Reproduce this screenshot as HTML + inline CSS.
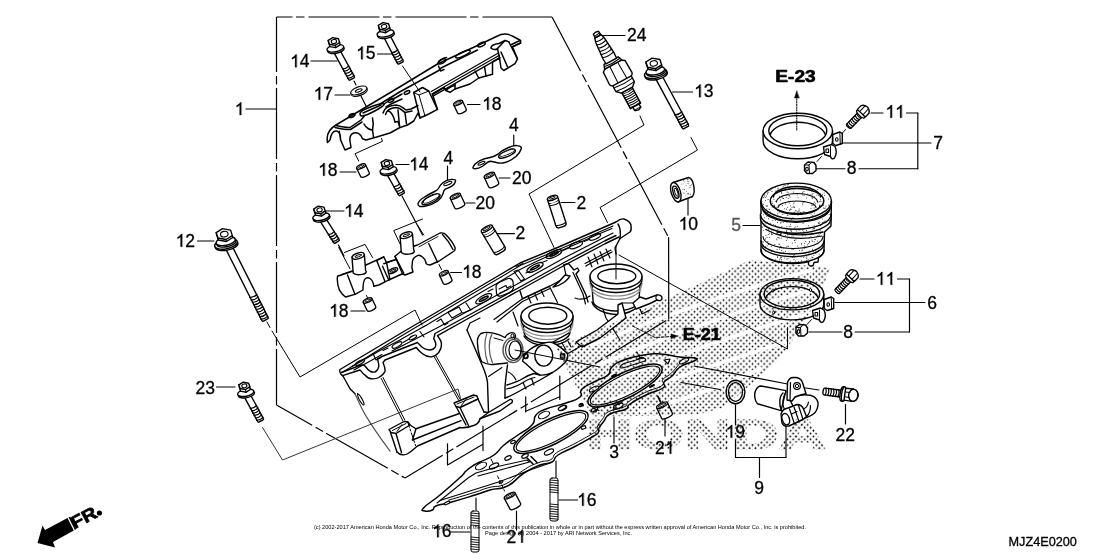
<!DOCTYPE html>
<html><head><meta charset="utf-8"><title>E-10 Cylinder Head</title>
<style>
html,body{margin:0;padding:0;background:#fff;}
body{width:1120px;height:560px;overflow:hidden;font-family:"Liberation Sans",sans-serif;}
svg{display:block;font-family:"Liberation Sans",sans-serif;}
svg{filter:grayscale(1) blur(0.3px);}
</style></head><body>
<svg width="1120" height="560" viewBox="0 0 1120 560" fill="none" stroke="#000" stroke-linecap="round" stroke-linejoin="round">
<defs>
<pattern id="dots" width="5.8" height="5.8" patternUnits="userSpaceOnUse">
<circle cx="1.45" cy="1.45" r="0.9" fill="#000" stroke="none"/>
<circle cx="4.35" cy="4.35" r="0.9" fill="#000" stroke="none"/>
</pattern>
</defs>
<rect x="0" y="0" width="1120" height="560" fill="#fff" stroke="none"/>

<path d="M276.5,17 L552,17" stroke-width="1.2" stroke-dasharray="71 3.5 8.5 4" stroke-dashoffset="55" stroke-linecap="butt"/>
<path d="M276.5,17 L276.5,405" stroke-width="1.2" stroke-dasharray="71 4 8.5 3.5" stroke-dashoffset="16" stroke-linecap="butt"/>
<path d="M552,17 L668.6,237.5" stroke-width="1.2" stroke-dasharray="71 4 8.5 3.5" stroke-dashoffset="10" stroke-linecap="butt"/>
<path d="M668.6,237.5 L668.75,319" stroke-width="1.2" />
<path d="M405,478 L668.75,319" stroke-width="1.2" stroke-dasharray="71 4 8.5 3.5" stroke-dashoffset="27" stroke-linecap="butt"/>
<path d="M276.5,405 L405,478" stroke-width="1.2" stroke-dasharray="71 4 8.5 3.5" stroke-dashoffset="30" stroke-linecap="butt"/>
<line x1="246" y1="109" x2="276" y2="109" stroke-width="1.15" />
<line x1="311" y1="61" x2="337" y2="61" stroke-width="1.15" />
<line x1="377.5" y1="54" x2="394" y2="54" stroke-width="1.15" />
<line x1="335" y1="95" x2="350" y2="95" stroke-width="1.15" />
<line x1="467.5" y1="104.5" x2="480" y2="104.5" stroke-width="1.15" />
<line x1="513.75" y1="135" x2="513.75" y2="146" stroke-width="1.15" />
<line x1="340" y1="172" x2="356" y2="172" stroke-width="1.15" />
<line x1="396" y1="164.5" x2="409" y2="164.5" stroke-width="1.15" />
<line x1="447.5" y1="166" x2="447.5" y2="180" stroke-width="1.15" />
<line x1="499" y1="178" x2="510" y2="178" stroke-width="1.15" />
<line x1="466" y1="203" x2="475" y2="203" stroke-width="1.15" />
<line x1="326" y1="211" x2="344" y2="211" stroke-width="1.15" />
<line x1="497.5" y1="233.6" x2="514.5" y2="233.6" stroke-width="1.15" />
<line x1="561" y1="202.5" x2="575" y2="202.5" stroke-width="1.15" />
<line x1="197.5" y1="241" x2="214" y2="241" stroke-width="1.15" />
<line x1="351" y1="311" x2="365" y2="311" stroke-width="1.15" />
<line x1="450.6" y1="272.5" x2="461.5" y2="272.5" stroke-width="1.15" />
<line x1="600" y1="35.5" x2="625" y2="35.5" stroke-width="1.15" />
<line x1="672.5" y1="92" x2="692.5" y2="92" stroke-width="1.15" />
<line x1="688" y1="199" x2="688" y2="215" stroke-width="1.15" />
<line x1="871" y1="113" x2="883" y2="113" stroke-width="1.15" />
<line x1="906.5" y1="113" x2="917.8" y2="113" stroke-width="1.15" />
<line x1="917.8" y1="113" x2="917.8" y2="168.75" stroke-width="1.15" />
<line x1="841" y1="143" x2="931" y2="143" stroke-width="1.15" />
<line x1="816" y1="168.75" x2="845" y2="168.75" stroke-width="1.15" />
<line x1="859" y1="168.75" x2="917.8" y2="168.75" stroke-width="1.15" />
<line x1="743" y1="225.5" x2="760" y2="225.5" stroke-width="1.15" />
<line x1="860" y1="279" x2="874" y2="279" stroke-width="1.15" />
<line x1="897.5" y1="279" x2="909.5" y2="279" stroke-width="1.15" />
<line x1="909.5" y1="279" x2="909.5" y2="332" stroke-width="1.15" />
<line x1="835" y1="302.5" x2="925" y2="302.5" stroke-width="1.15" />
<line x1="809" y1="332" x2="842" y2="332" stroke-width="1.15" />
<line x1="855" y1="332" x2="909.5" y2="332" stroke-width="1.15" />
<line x1="735.5" y1="404.5" x2="735.5" y2="425" stroke-width="1.15" />
<line x1="735.5" y1="440" x2="735.5" y2="457.5" stroke-width="1.15" />
<line x1="735.5" y1="457.5" x2="786" y2="457.5" stroke-width="1.15" />
<line x1="786" y1="426" x2="786" y2="457.5" stroke-width="1.15" />
<line x1="759.5" y1="457.5" x2="759.5" y2="477.5" stroke-width="1.15" />
<line x1="845.5" y1="404.5" x2="845.5" y2="424" stroke-width="1.15" />
<line x1="665" y1="419" x2="665" y2="436" stroke-width="1.15" />
<line x1="614" y1="417" x2="614" y2="443" stroke-width="1.15" />
<line x1="516.5" y1="511" x2="516.5" y2="530" stroke-width="1.15" />
<line x1="451" y1="532" x2="470" y2="532" stroke-width="1.15" />
<line x1="559" y1="500" x2="577.5" y2="500" stroke-width="1.15" />
<line x1="216.5" y1="387" x2="235" y2="387" stroke-width="1.15" />
<line x1="476" y1="498" x2="476" y2="510" stroke-width="1.15" />
<line x1="556" y1="461" x2="556" y2="477.5" stroke-width="1.15" />
<path d="M632.5,326 L655,337.5 L673,336.5" stroke-width="1" stroke-dasharray="3 1.5"/>
<path d="M678,336 L671,334 L671,338.5 Z" fill="#000" stroke-width="0.5"/>
<path d="M358.75,161 L355,153.75 L382.5,141.25 L381.5,138.5" stroke-width="1" />
<line x1="354" y1="81" x2="356" y2="85" stroke-width="1.15" />
<line x1="361" y1="96" x2="367" y2="108" stroke-width="1.15" />
<line x1="402" y1="196" x2="422.5" y2="235" stroke-width="1.15" />
<line x1="338.5" y1="245" x2="344" y2="256" stroke-width="1.15" />
<path d="M640,116 L644,125 L529,194 L554,247.5" stroke-width="1" />
<path d="M691,137.5 L697.5,150 L600,207.5 L607.5,222.5" stroke-width="1" />
<path d="M267,322 L270,327.5" stroke-width="1" />
<line x1="694" y1="366" x2="787.5" y2="384" stroke-width="1.15" />
<line x1="802.5" y1="387.5" x2="819" y2="390" stroke-width="1.15" />
<line x1="681" y1="382.5" x2="720" y2="389.5" stroke-width="1.15" />
<line x1="657.5" y1="396" x2="660.5" y2="402.5" stroke-width="1.15" />
<path d="M447.5,443.75 L447.5,465" stroke-width="1.2" />
<path d="M483,426 L483,450.6" stroke-width="1.2" />
<path d="M448.5,464.4 L482.5,444.4" stroke-width="1.2" />
<path d="M525.7,396.8 L525.7,412" stroke-width="1.2" />
<path d="M559.8,376 L559.8,399.4" stroke-width="1.2" />
<path d="M525.7,411.3 L559.8,396.8" stroke-width="1.2" />
<g stroke-width="1.4" fill="#fff">
<path stroke="none" d="M340,369.5 L400,333.75 L470,292.5 L520,263 L557.5,247.5 L616,222 L624,219 L631,226 L630,232 L622,238 L660,296 L662,302 L640,318 L600,345 L568,362 L552,373 L512,402 L482,421 L470,428 L418,447 L405,456 L396,453 L390,451 L366,416 L350,390 L342,376 Z"/>
</g>
<g stroke-width="1.4" fill="none">
<path d="M342.5,375.6 C340,374 339.5,371 340,369.5 L400,333.75 L470,292.5 L520,263 L557.5,247.5 L616,222"/>
<path d="M343,372 L400.8,336.2 L470.8,294.8 L520.8,265.3 L558.3,249.8 L613,226" stroke-width="1.1"/>
<path d="M616,222 C619,219.5 622,218.5 624,219 C628,220.5 631,223.5 631,226 C631.5,229 631,231 630,232 L620,238.5" fill="#fff"/>
<path d="M618,224 C620,227 621,231 620,238.5"/>
<path d="M342.5,375.6 L360,370 C362,372 363,374 365,375 C367,377.5 369,378.75 371.25,378.75 C374,379 377,378.5 378.75,377.5 C382,375.5 384.5,373 385,371.25 C385.5,368 384,365 383,362.5 L385,360 L416.25,347.5 C418,350 420,352 422.5,353.75 C425,355.8 428,357 431.25,356.9 C434,356.5 437,354.5 438.75,352.5 C441,349.5 441.8,345.5 441.25,342.5 C440.8,340.5 439.8,338.8 438.75,337.5 L437.5,335.6 L470,317.5 L520,290 L565,265 L605,243.75 L619,237"/>
<path d="M341.25,372.5 L361.25,365 C362.5,365 364,365.3 365,366 C366.5,368 368,370 370,371.25 C371.5,372 373.5,372.3 375,372 C377,371 378.5,368.8 378.75,366.25 C379,363.5 378,361 377.5,358.75 L382.5,356.25 L417.5,342.5 C419,344 420.5,346 422.5,347.5 C424.5,349 427,350 430,350 C432,349.8 434,348.8 435,347.5 C436.5,345 435.5,341.5 433.75,338.75 L435,333.5 L470,314.5 L520,287 L565,262 L605,240.75 L616,235.5"/>
<path d="M352,366.5 L380,350.5 L400,340 C410,334 420,329 430,323 L470,299 C480,293 488,288 496,284 L520,269.5 C535,262 548,256 557,252.5 L600,233.5 L612,228.5" stroke-width="1.15"/>
<path d="M354,370 L382,354.5 M392,351 L436,328.5 L470,310 L520,282.5 L565,257.5 L605,237 L613,233" stroke-width="1.15"/>
<ellipse cx="360" cy="362.5" rx="5" ry="1.7" transform="rotate(-29 360 362.5)" stroke-width="1.2"/>
<ellipse cx="397" cy="345" rx="5.5" ry="1.9" transform="rotate(-29 397 345)" stroke-width="1.2"/>
<ellipse cx="413" cy="337.5" rx="4" ry="1.6" transform="rotate(-29 413 337.5)" stroke-width="1.2"/>
<ellipse cx="483.75" cy="298.75" rx="9" ry="3.2" transform="rotate(-29 483.75 298.75)" stroke-width="1.2"/>
<ellipse cx="483.75" cy="298.75" rx="5.0" ry="1.1" transform="rotate(-29 483.75 298.75)" stroke-width="1.6"/>
<ellipse cx="535" cy="267.5" rx="9" ry="3" transform="rotate(-27 535 267.5)" stroke-width="1.2"/>
<ellipse cx="535" cy="267.5" rx="5.0" ry="1.0" transform="rotate(-27 535 267.5)" stroke-width="1.6"/>
<ellipse cx="554" cy="254" rx="8.5" ry="3" transform="rotate(-24 554 254)" stroke-width="1.2"/>
<ellipse cx="554" cy="254" rx="4.7" ry="1.0" transform="rotate(-24 554 254)" stroke-width="1.6"/>
<ellipse cx="576" cy="245" rx="7" ry="2.6" transform="rotate(-24 576 245)" stroke-width="1.2"/>
<ellipse cx="595" cy="237" rx="6" ry="2.2" transform="rotate(-24 595 237)" stroke-width="1.2"/>
<path d="M496,286.5 C496,284.5 498,283 500,282 L508,278.5 C510.5,278 512.5,279.5 513,281.5 L513.5,288 C513,290 511.5,291.5 509.5,292.5 L501,296 C498.5,296.5 497,295.5 496.5,293.5 Z" stroke-width="1.2"/>
<path d="M499,289 L506,285.5 L507,288 L511,286 M500,293 L508,289.5" stroke-width="1.1"/>
<path d="M514,271.5 L518,270 L524.5,279 L521,281 Z M516,266.5 L523,263.5" stroke-width="1.2"/>
<path d="M493,289 L488,291.5 M526,273 L530,271 M543,262 L547,260.5 M563,250.5 L569,248 M584,241.5 L589,239.5" stroke-width="1.1"/>
<path d="M437,321.5 L441,319 L444.5,325 L448,323 M448,312.5 L452,318 L462,312.5 L459,307 Z M463,313 L472,309.5 M466,303 L470,309" stroke-width="1.15"/>
<path d="M373,353.5 L376,360 L381,357.5 M383,350.5 L388,348 M403,342.5 L409,339 M420,331.5 L424,337" stroke-width="1.15"/>
<path d="M343,376 L350,388.75 L355,393.75"/>
<path d="M357.5,393.5 C359.5,394 363,400 364,403.5 C364.3,405 363.3,405.5 362.5,404.5 C360,401.5 357.5,397 357.5,393.5 Z" stroke-width="1.1"/>
<path d="M355,393.75 C358,400 361,408 366,416 C372,426 381,439 390,451" stroke="#444" stroke-width="1.2"/>
<path d="M381.25,378.5 L403,421 M383,377.5 L404.8,420" stroke-width="1"/>
<path d="M434.4,357 L458.5,400 M436,356 L460,399" stroke-width="1"/>
<path d="M389,429.5 L404,421.5 L408,422 L410,425 L396,433.5 L391,432.5 Z" fill="#fff"/>
<path d="M392.5,430.5 L406,423.5 M397,431.5 L402,424.5" stroke-width="1"/>
<path d="M390.5,432.5 L397,452 M396,433.5 L401.5,452.5 M410,425 L416,428.75 L412.5,440"/>
<path d="M416,428.75 L458.75,413.75"/>
<path d="M412.5,440 L461,420.6"/>
<path d="M397,452 C400,455.5 405,455.5 408,453.5 C412,451 415,448 417.5,446 L460,427.5 C463,428 469,427.5 475,425 C478,423.5 479.5,421.5 480,418.75 L500,411 L512,402.5"/>
<path d="M407.5,421.5 L415.6,445.6" stroke-width="1" stroke-dasharray="6 2 2 2"/>
<path d="M454,403 L473.5,395 L477,396 L478,399 L460,407.5 L456,406.5 Z" fill="#fff"/>
<path d="M457,404 L474,397 M461,406 L467.5,397.5" stroke-width="1"/>
<path d="M456,406.5 L466,425 M460,407.5 L469,426.5 M478,399 L484,412"/>
<path d="M484,412 L488.5,412.5 L480,418.75 M488.5,412.5 L510,399.5 C512,399 513,400.5 512,402.5"/>
<path d="M467,330 L482.5,366 C485.5,373 487,378 487.5,382.5 L488.5,412"/>
<path d="M507.5,365 C506.5,372 505.5,380 505,387.5 L505,398"/>
<path d="M488.5,376.5 L502,367.5" stroke-width="1.1"/>
<path d="M507,385 C512,383.5 518,381.5 522,379 C526,376.5 530,374.5 534,373.5 L540,375"/>
<path d="M506.5,389 C512,388 518.5,385.5 523,382.5 C527,380 531,378 535,377.5 M523,382.5 L526,389 M531.5,378.5 L534,385" stroke-width="1.2"/>
<path d="M508,372 C511,373 514,376 516,380" stroke-width="1.1"/>
<path d="M505,398 C511,396 518,392 524,388.5 L540,380 L552,373"/>
</g>
<g stroke-width="1.4" fill="none">
<path d="M620,238.5 L615,248 L616,254"/>
<path d="M588,257 L592,267 M594,254 L598,264 M600,251.5 L604,261 M606,249 L610,258" stroke-width="1.2"/>
<path d="M586,266 L587.5,265 L612,252"/>
<path d="M585,263.5 L611,250" stroke-width="1.1"/>
<path d="M520,291 L522.5,298.75 L550,286 L563,279"/>
<path d="M497,322 L505,315.5 L522.5,301.5 L550,288.5" stroke-width="1.2"/>
<path d="M494,319.5 L503,313 L522.5,298.75" stroke-width="1.2"/>
<path d="M528,296 L531,303 M534.5,293 L537.5,300 M550,287.5 L557.5,302.5 M541,290 L544,296.5" stroke-width="1.2"/>
<path d="M563.75,265 L568.5,263.5 L574,270 L577.5,268 L579,270.5 L576,274 L586,295 L588,302" fill="none"/>
<path d="M573,272.5 L583,294 L585.5,304" stroke-width="1.2"/>
<path d="M553,287 C557,286.5 561,284.5 563.75,282.5 C567,280 569,278 570,276 L565,275 C562,279 558,283 553,287 Z" fill="#fff"/>
<path d="M563.75,265 L566,275" stroke-width="1.2"/>
<path d="M467,330 L470,323 L480,318 M513,312 L518,326 M575,298 C580,300 586,299 590,296" stroke-width="1.2"/>
<path d="M600,300 L606,318 L620,340" stroke-width="1.2"/>
</g>
<g stroke-width="1.4" fill="#fff">
<path d="M592,284.5 L593,300.5 A23,10.5 0 0 0 639,300.5 L640,284.5 Z"/>
<path d="M590,283.5 A26,12.5 0 0 0 642,283.5" fill="none" stroke="#888" stroke-width="1.2"/>
<path d="M591,287.0 A25,12.5 0 0 0 641,287.0" fill="none" stroke="#888" stroke-width="1.2"/>
<path d="M590,276.5 L590,280.0 A26,12.5 0 0 0 642,280.0 L642,276.5 Z"/>
<ellipse cx="616" cy="276.5" rx="26" ry="12.5"/>
<ellipse cx="616.8" cy="276.2" rx="19" ry="7.5"/>
</g>
<line x1="616" y1="246" x2="616" y2="279" stroke-width="1" />
<g stroke-width="1.4" fill="#fff">
<path d="M523,324 L524,332 A23,11 0 0 0 570,332 L571,324 Z"/>
<path d="M521,323 A26,13 0 0 0 573,323" fill="none" stroke="#888" stroke-width="1.2"/>
<path d="M522,326.5 A25,13 0 0 0 572,326.5" fill="none" stroke="#888" stroke-width="1.2"/>
<path d="M521,316 L521,319.5 A26,13 0 0 0 573,319.5 L573,316 Z"/>
<ellipse cx="547" cy="316" rx="26" ry="13"/>
<ellipse cx="547.8" cy="315.7" rx="19" ry="8.5"/>
</g>
<g stroke-width="1.4" fill="none">
<path d="M592,302 C594,309 604,314 616,314.5 C626,314 634,311 638,306"/>
<path d="M524,336 C527,342 537,345.5 547,346 C556,345.5 564,343.5 569,339" />
<path d="M618,305 L622,303 L626,318 L600,338 L582,347 L576,342 L597,330 L618,314 Z" fill="#fff"/>
<path d="M633,303 L636,309 L650,303.5 L657,300 C660,301.5 662,300 662,298 C662,296 660,294.5 657,295 L646,299 L640,297 L633,303 Z" fill="#fff"/>
<path d="M657,295 C655.5,296.5 655.5,299 657,300" stroke-width="1.1"/>
<path d="M640,309 L642,314 L650,310 M622,303 L633,303" stroke-width="1.2"/>
<path d="M556,345 L560,352 M562,343 L566,350 M568,341 L571,347" stroke-width="1.1"/>
</g>
<g stroke-width="1.4" fill="none">
<path d="M505,337.5 C497,333 487,331 481,333.5 C478,336 477,339.5 477.5,343.5 C478,351 479.5,357 481.5,361.5 C486,364.5 491,365 495,364.3 L507.5,363" fill="#fff"/>
<path d="M492,334 C488.5,341 488,352 492.5,363" stroke="#555" stroke-width="1.2"/>
<path d="M487,333 C484,341 484,353 488,363.5" stroke="#555" stroke-width="1.1"/>
<ellipse cx="513" cy="350" rx="10" ry="12.5" fill="#fff" stroke="#555"/>
<ellipse cx="513.5" cy="350" rx="8" ry="10.5" stroke="#333" stroke-width="1.2"/>
<ellipse cx="515" cy="350" rx="6" ry="9" stroke="#000" stroke-width="1.2"/>
<path d="M505,337.5 C507,333.5 511,332 514,333 C516,334.5 516,337 514.5,338.5" stroke-width="1.2"/>
<ellipse cx="512.5" cy="336" rx="1.6" ry="2" stroke-width="1"/>
<path d="M494,338 L503,340.5" stroke-width="1"/>
<path d="M522.5,361 C524,356 525.5,353.5 527,352 C531,348 538,344.5 544,343 C548,342 551,342 552.5,342.5 C558,345 563.5,349.5 567.5,353.75 C568.3,357.5 567,360.5 565,362.5 C561,366.5 557,370 552.5,372.5 C548.5,374.5 544,375.5 540,375 C536,373.5 533,370.5 530,367.5 C527.5,365 525,363 522.5,361 Z" fill="#fff"/>
<ellipse cx="543.75" cy="355.6" rx="9" ry="10.5" fill="#fff"/>
<circle cx="525.6" cy="356" r="2.3" stroke-width="1.8"/>
<rect x="560.5" y="354" width="4.2" height="4.2" stroke-width="1.3"/>
<path d="M561.8,354 L561.8,358.2 M563.2,354 L563.2,358.2" stroke-width="0.7"/>
<path d="M515,350 L600,367" stroke-width="1"/>
<path d="M552,342.5 L569,333 M567.5,353.75 L583,345" stroke-width="1.2"/>
</g>
<g stroke-width="1.5" fill="#fff">
<path d="M424.0,507.5 C428.0,503.2 430.4,503.0 440.0,495.0 C449.6,487.0 453.1,483.9 460.0,477.5 C466.9,471.1 462.3,474.3 466.0,471.0 C469.7,467.7 470.3,467.4 474.0,465.0 C477.7,462.6 474.7,464.7 480.0,462.0 C485.3,459.3 487.6,459.5 494.0,455.0 C500.4,450.5 497.6,450.3 504.0,445.0 C510.4,439.7 510.5,440.3 518.0,435.0 C525.5,429.7 527.2,430.3 532.0,425.0 C536.8,419.7 532.3,419.3 536.0,415.0 C539.7,410.7 538.0,412.2 546.0,409.0 C554.0,405.8 556.9,406.2 566.0,403.0 C575.1,399.8 575.7,400.7 580.0,397.0 C584.3,393.3 577.7,393.3 582.0,389.0 C586.3,384.7 589.1,384.7 596.0,381.0 C602.9,377.3 603.7,378.7 608.0,375.0 C612.3,371.3 607.7,371.0 612.0,367.0 C616.3,363.0 615.5,363.2 624.0,360.0 C632.5,356.8 634.4,356.6 644.0,355.0 C653.6,353.4 650.4,353.5 660.0,354.0 C669.6,354.5 670.7,355.9 680.0,357.0 C689.3,358.1 691.3,356.9 695.0,358.0 C698.7,359.1 698.0,358.6 694.0,361.0 C690.0,363.4 685.9,363.0 680.0,367.0 C674.1,371.0 676.3,372.0 672.0,376.0 C667.7,380.0 666.4,378.8 664.0,382.0 C661.6,385.2 667.8,384.5 663.0,388.0 C658.2,391.5 654.8,390.7 646.0,395.0 C637.2,399.3 635.3,400.3 630.0,404.0 C624.7,407.7 631.3,406.3 626.0,409.0 C620.7,411.7 615.9,410.8 610.0,414.0 C604.1,417.2 606.9,417.3 604.0,421.0 C601.1,424.7 600.6,424.8 599.0,428.0 C597.4,431.2 599.9,430.6 598.0,433.0 C596.1,435.4 598.4,433.3 592.0,437.0 C585.6,440.7 583.1,442.2 574.0,447.0 C564.9,451.8 563.9,451.0 558.0,455.0 C552.1,459.0 556.8,459.3 552.0,462.0 C547.2,464.7 547.5,462.1 540.0,465.0 C532.5,467.9 532.7,467.4 524.0,473.0 C515.3,478.6 516.6,481.5 507.5,486.0 C498.4,490.5 498.7,487.6 490.0,490.0 C481.3,492.4 485.7,491.7 475.0,495.0 C464.3,498.3 460.4,499.6 450.0,502.5 C439.6,505.4 440.7,504.0 436.0,506.0 C431.3,508.0 435.4,508.7 432.5,510.0 C429.6,511.3 427.3,511.7 425.0,511.0 C422.7,510.3 420.0,511.8 424.0,507.5 Z"/>
<path d="M678.8,364.6 C676.7,367.0 675.1,369.6 670.8,373.6 C666.5,377.6 665.2,376.4 662.8,379.6 C660.4,382.8 666.6,382.1 661.8,385.6 C657.0,389.1 653.6,388.3 644.8,392.6 C636.0,396.9 634.1,397.9 628.8,401.6 C623.5,405.3 630.1,403.9 624.8,406.6 C619.5,409.3 614.7,408.4 608.8,411.6 C602.9,414.8 605.7,414.9 602.8,418.6 C599.9,422.3 599.4,422.4 597.8,425.6 C596.2,428.8 598.7,428.2 596.8,430.6 C594.9,433.0 597.2,430.9 590.8,434.6 C584.4,438.3 581.9,439.8 572.8,444.6 C563.7,449.4 562.7,448.6 556.8,452.6 C550.9,456.6 555.6,456.9 550.8,459.6 C546.0,462.3 546.3,459.7 538.8,462.6 C531.3,465.5 531.5,465.0 522.8,470.6 C514.1,476.2 515.4,479.1 506.3,483.6 C497.2,488.1 497.5,485.2 488.8,487.6 C480.1,490.0 484.5,489.3 473.8,492.6 C463.1,495.9 455.5,498.1 448.8,500.1" fill="none" stroke-width="1"/>
<ellipse cx="551" cy="432" rx="41" ry="12.5" transform="rotate(-26.3 551 432)"/>
<ellipse cx="551" cy="432" rx="38.5" ry="10.3" transform="rotate(-26.3 551 432)" stroke-width="1.1"/>
<ellipse cx="625" cy="385.5" rx="41" ry="12.5" transform="rotate(-26.3 625 385.5)"/>
<ellipse cx="625" cy="385.5" rx="38.5" ry="10.3" transform="rotate(-26.3 625 385.5)" stroke-width="1.1"/>
<ellipse cx="544" cy="415" rx="6" ry="3" transform="rotate(-26 544 415)" stroke-width="1.2"/>
<ellipse cx="563" cy="408" rx="4" ry="2" transform="rotate(-26 563 408)" stroke-width="1.2"/>
<ellipse cx="581" cy="405" rx="2.2" ry="1.3" transform="rotate(-26 581 405)" stroke-width="1.2"/>
<ellipse cx="618" cy="406" rx="5" ry="2.2" transform="rotate(-26 618 406)" stroke-width="1.2"/>
<ellipse cx="513" cy="442" rx="2.5" ry="1.3" transform="rotate(-26 513 442)" stroke-width="1.2"/>
<ellipse cx="508" cy="458" rx="3.5" ry="1.8" transform="rotate(-26 508 458)" stroke-width="1.2"/>
<ellipse cx="525" cy="456" rx="3.5" ry="1.8" transform="rotate(-26 525 456)" stroke-width="1.2"/>
<ellipse cx="549" cy="452" rx="5" ry="2.2" transform="rotate(-26 549 452)" stroke-width="1.2"/>
<ellipse cx="481" cy="466" rx="6" ry="3" transform="rotate(-26 481 466)" stroke-width="1.2"/>
<ellipse cx="494" cy="466" rx="5" ry="2.2" transform="rotate(-26 494 466)" stroke-width="1.2"/>
<ellipse cx="501" cy="482" rx="2" ry="1.2" transform="rotate(-26 501 482)" stroke-width="1.2"/>
<ellipse cx="640" cy="360" rx="4" ry="1.8" transform="rotate(-26 640 360)" stroke-width="1.2"/>
<ellipse cx="684" cy="361" rx="5" ry="2" transform="rotate(-26 684 361)" stroke-width="1.2"/>
<ellipse cx="594" cy="389" rx="5" ry="2" transform="rotate(-26 594 389)" stroke-width="1.2"/>
<ellipse cx="619" cy="406" rx="4.5" ry="2" transform="rotate(-26 619 406)" stroke-width="1.2"/>
<ellipse cx="562" cy="408" rx="4" ry="1.8" transform="rotate(-26 562 408)" stroke-width="1.2"/>
<ellipse cx="447" cy="503" rx="3" ry="1.2" transform="rotate(-26 447 503)" stroke-width="1.2"/>
<path d="M620,367.5 C620,365.5 622,364.5 624,363.5 L643,358 C645,358 646.5,359.5 645,361 L626,367 C623,368 620.5,368.5 620,367.5 Z" stroke-width="1.2"/>
<path d="M664,360 L670,359 L668,364 Z M592,409 L598,407 L596,412 L591,412 Z M593,411.5 L598,409.5 M581,427 L585,425.5 L586,428 L582,429.5 Z M594.5,409 L599,410.5" stroke-width="1.2"/>
<path d="M612,376.5 L616,374.5 M650,387 L654,385 M580,404.5 L583,405.5" stroke-width="2"/>
<path d="M437,503 L452,491 L468,478 L476,473 L500,466 L527,460 L529.5,462 L502,469.5 L478,476" stroke-width="1.1" fill="none"/>
<path d="M440,500.5 L470,491 L500,481.5 L530,470 L550,463" stroke-width="1.1" fill="none"/>
<path d="M527,458 L533,464 M531,456.5 L537,462.5" stroke-width="1.6"/>
</g>
<path d="M491,459 L493.5,464" stroke-width="1" />
<path d="M637,352 L640,358.5" stroke-width="1" />
<path d="M658,396 L661,402" stroke-width="1" />
<path d="M497.5,476 L501,483 L504.5,491" stroke-width="1" stroke-dasharray="3 2"/>
<g stroke-width="1.4" fill="#fff">
<path d="M473,167.5 C474,164 477,162.5 480,160.6 C484,158.5 487,158 490,157.5 C493,157 495.5,156 497.5,154.4 C501,151 504,149.5 507.5,148 C511,146.3 515,145.2 517.5,145.6 C520.5,146 521.8,147.3 521.25,148.75 C520.5,151.5 518.5,154 516.25,156.25 C513,159 509,161.5 505,162.5 C502,163.3 499,163.3 496.25,162.5 C494,162 492,161.3 490,161.25 C487,162 485,164.5 482.5,166.25 C480,167.8 477.5,168.8 475,168.75 C473.5,168.7 472.8,168.3 473,167.5 Z"/>
<ellipse cx="507" cy="153.7" rx="9" ry="2.9" transform="rotate(-23 507 153.7)"/>
<ellipse cx="507.3" cy="152.7" rx="8" ry="1.8" transform="rotate(-23 507.3 152.7)" stroke-width="0.9"/>
<ellipse cx="481.5" cy="163.2" rx="3.8" ry="1.1" transform="rotate(-24 481.5 163.2)" stroke-width="1.1"/>
<path d="M418,203.75 C419,200.5 421,199 423.75,197.5 C428,195 431.5,193 435,191.25 C437,190.3 438,189.3 438.75,188 C439.8,186 441,184.3 442.5,183 C445,181 448.5,179.6 451.25,179.4 C453.8,179.2 455.5,179.7 455.6,180.6 C455.5,182.5 454.2,184.2 452.5,185.6 C450.3,187.3 447.5,188.2 445,189.4 C443.8,190.3 443.3,192 443,193.75 C442,197 440,199.5 437.5,201.25 C433.5,204 429,205.7 425,206.25 C422.5,206.6 420.5,206.8 419.4,206.25 C418.2,205.6 417.8,204.8 418,203.75 Z"/>
<ellipse cx="431" cy="199.3" rx="10" ry="3.4" transform="rotate(-27 431 199.3)"/>
<ellipse cx="431.3" cy="198.5" rx="8.8" ry="2.3" transform="rotate(-27 431.3 198.5)" stroke-width="0.9"/>
<ellipse cx="447.8" cy="183.5" rx="4.4" ry="1.3" transform="rotate(-22 447.8 183.5)" stroke-width="1.1"/>
</g>
<g transform="translate(486,227.5) rotate(59.04)" stroke-width="1.4" fill="#fff">
<path d="M1.5,-6.25 L26.154759474226502,-6.25 Q29.154759474226502,-6.25 29.154759474226502,-3.25 L29.154759474226502,3.25 Q29.154759474226502,6.25 26.154759474226502,6.25 L1.5,6.25"/>
<ellipse cx="1.5" cy="0" rx="2.2" ry="6.25"/>
<ellipse cx="1.3" cy="0" rx="0.9" ry="4.05" stroke-width="0.9"/>
<path d="M4.5,-6.25 A2.2,6.25 0 0 1 4.5,6.25" stroke-width="1"/>
<path d="M6.5,-6.25 A2.2,6.25 0 0 1 6.5,6.25" stroke-width="1"/>
<path d="M24.654759474226502,-6.25 A2.2,6.25 0 0 1 24.654759474226502,6.25" stroke-width="1"/>
</g>
<g transform="translate(552,196.5) rotate(72.19)" stroke-width="1.4" fill="#fff">
<path d="M1.5,-5.25 L29.035761267683327,-5.25 Q32.03576126768333,-5.25 32.03576126768333,-2.25 L32.03576126768333,2.25 Q32.03576126768333,5.25 29.035761267683327,5.25 L1.5,5.25"/>
<ellipse cx="1.5" cy="0" rx="2.2" ry="5.25"/>
<ellipse cx="1.3" cy="0" rx="0.9" ry="3.05" stroke-width="0.9"/>
<path d="M4.5,-5.25 A2.2,5.25 0 0 1 4.5,5.25" stroke-width="1"/>
<path d="M6.5,-5.25 A2.2,5.25 0 0 1 6.5,5.25" stroke-width="1"/>
<path d="M27.535761267683327,-5.25 A2.2,5.25 0 0 1 27.535761267683327,5.25" stroke-width="1"/>
</g>
<g transform="translate(595.6,32) rotate(61.6)" stroke-width="1.4" fill="#fff">
<path d="M66,-5.8 L84,-5.8 L84,5.8 L66,5.8 Z"/>
<path d="M67.5,-5.8 Q68.8,0 67.5,5.8" stroke-width="1"/>
<path d="M69.7,-5.8 Q71.0,0 69.7,5.8" stroke-width="1"/>
<path d="M71.9,-5.8 Q73.2,0 71.9,5.8" stroke-width="1"/>
<path d="M74.1,-5.8 Q75.39999999999999,0 74.1,5.8" stroke-width="1"/>
<path d="M76.3,-5.8 Q77.6,0 76.3,5.8" stroke-width="1"/>
<path d="M78.5,-5.8 Q79.8,0 78.5,5.8" stroke-width="1"/>
<path d="M80.7,-5.8 Q82.0,0 80.7,5.8" stroke-width="1"/>
<path d="M82.9,-5.8 Q84.2,0 82.9,5.8" stroke-width="1"/>
<path d="M84,-4 L87.5,-4 L87.5,3 L84,3 Z"/>
<path d="M87.5,-4 L89,-1 L88,2.5" />
<path d="M54,-10.5 L62,-10.5 L66,-6.5 L66,6.5 L62,10.5 L54,10.5 Z"/>
<path d="M58,-10.5 Q59.6,0 58,10.5" stroke-width="1"/>
<path d="M62,-10.5 Q63.5,0 62,10.5" stroke-width="1"/>
<path d="M39,-12.3 L53,-12.8 Q55.5,-12 55.5,-10 L55.5,10 Q55.5,12 53,12.8 L39,12.3 Q37,10 37,8 L37,-8 Q37,-10 39,-12.3 Z"/>
<path d="M38,-5 L55,-5.5" stroke-width="1"/><path d="M38,4 L55,4.5" stroke-width="1"/>
<path d="M32.5,-8 L37,-9.8 L37,9.8 L32.5,8 Z"/>
<path d="M34.7,-9 Q36.2,0 34.7,9" stroke-width="1"/>
<path d="M5,-3.6 L9,-4.8 L27,-6.3 L33,-6 L33,6 L27,6.3 L9,4.8 L5,3.6 Z"/>
<path d="M8.5,-4.8 Q10.5,0 8.5,4.8" stroke-width="1.1"/>
<path d="M12,-5.1 Q14,0 12,5.1" stroke-width="1.1"/>
<path d="M15.5,-5.4 Q17.5,0 15.5,5.4" stroke-width="1.1"/>
<path d="M19,-5.7 Q21,0 19,5.7" stroke-width="1.1"/>
<path d="M22.5,-6 Q24.5,0 22.5,6" stroke-width="1.1"/>
<path d="M26,-6.2 Q28,0 26,6.2" stroke-width="1.1"/>
<path d="M0.8,-3 L5,-3.2 L5,3.2 L0.8,3 Q-0.6,0 0.8,-3 Z"/>
<path d="M2.5,-3 L3.3,3 M4,-3.2 L4.8,3.2" stroke-width="0.9"/>
</g>
<g stroke-width="1.4" fill="#fff">
<path d="M673,182.5 L688.5,177.5 C691,177.8 692.5,180.5 693.5,184.5 C694.5,189 694.3,194 692.5,196.5 L678,202 Z"/>
<ellipse cx="675.8" cy="192.2" rx="4.6" ry="10" transform="rotate(-17 675.8 192.2)"/>
<ellipse cx="675.8" cy="192.2" rx="2.6" ry="6.3" transform="rotate(-17 675.8 192.2)"/>
<ellipse cx="676.2" cy="192.2" rx="1.4" ry="4.3" transform="rotate(-17 676.2 192.2)" stroke-width="0.9"/>
</g>
<g stroke="none" fill="#333">
<circle cx="682.9" cy="189.3" r="0.45"/>
<circle cx="684.4" cy="189.8" r="0.45"/>
<circle cx="687.5" cy="179.6" r="0.45"/>
<circle cx="680.2" cy="195.2" r="0.45"/>
<circle cx="683.1" cy="183.9" r="0.45"/>
<circle cx="691.9" cy="185.0" r="0.45"/>
<circle cx="690.0" cy="185.8" r="0.45"/>
<circle cx="687.7" cy="181.0" r="0.45"/>
<circle cx="687.6" cy="193.2" r="0.45"/>
<circle cx="686.3" cy="191.5" r="0.45"/>
<circle cx="688.1" cy="179.4" r="0.45"/>
<circle cx="689.1" cy="188.0" r="0.45"/>
<circle cx="683.6" cy="180.3" r="0.45"/>
<circle cx="690.4" cy="185.6" r="0.45"/>
<circle cx="688.6" cy="193.1" r="0.45"/>
<circle cx="688.6" cy="193.8" r="0.45"/>
<circle cx="684.7" cy="193.0" r="0.45"/>
<circle cx="685.3" cy="195.1" r="0.45"/>
<circle cx="690.5" cy="179.1" r="0.45"/>
<circle cx="681.6" cy="184.1" r="0.45"/>
<circle cx="691.6" cy="184.6" r="0.45"/>
<circle cx="687.5" cy="183.6" r="0.45"/>
<circle cx="686.1" cy="185.5" r="0.45"/>
<circle cx="684.2" cy="189.5" r="0.45"/>
<circle cx="687.0" cy="194.0" r="0.45"/>
<circle cx="688.2" cy="194.1" r="0.45"/>
<circle cx="690.3" cy="194.4" r="0.45"/>
<circle cx="688.1" cy="181.1" r="0.45"/>
<circle cx="690.3" cy="194.0" r="0.45"/>
<circle cx="690.9" cy="187.1" r="0.45"/>
<circle cx="688.6" cy="181.7" r="0.45"/>
<circle cx="690.0" cy="187.4" r="0.45"/>
<circle cx="683.4" cy="180.9" r="0.45"/>
<circle cx="690.2" cy="194.4" r="0.45"/>
<circle cx="681.1" cy="194.3" r="0.45"/>
<circle cx="684.9" cy="181.9" r="0.45"/>
<circle cx="683.5" cy="192.9" r="0.45"/>
<circle cx="690.5" cy="178.3" r="0.45"/>
<circle cx="687.4" cy="179.3" r="0.45"/>
<circle cx="688.6" cy="183.8" r="0.45"/>
</g>
<g stroke-width="1.4" fill="#fff">
<path d="M337.5,276.25 L356,270 L366,265 L383.75,256.9 L386.5,262.5 L396.25,259.4 L395,256.25 L402.5,250 L417.5,245 L440,233 C443,232.5 445,233.5 446.25,235 C450,239 453.5,243.5 455,247.5 C455.5,249.5 455,250.5 453.75,251.25 L438.75,261.25 L430,265 C428,265 427,264.5 426.25,263.75 C425.5,260 424,258 422.5,257 C420.5,255.3 418.5,255 417.5,255.6 C414.5,257 412.8,259 412.5,261 L411.9,267.5 L413,272 L405,275 L402.5,273.75 L388.75,280 L385,281.9 L378.75,285 L373.75,286.25 C373.5,282.5 372,280 370,278.5 C368.5,277.5 367,277.5 365.5,278.5 C363.5,280 363,284 363,290 L355,294.4 L345.5,297 L342.5,294.4 L339.4,290 C337.5,285 337,280 337.5,276.25 Z"/>
</g>
<g stroke-width="1.4" fill="none">
<path d="M347.5,275 L355,294.4"/>
<path d="M341,274.6 L352,270.8" stroke-width="0.9"/>
<path d="M376.9,261 L385,281.5"/>
<path d="M383.75,256.9 L377,260.5 L376.9,261"/>
<path d="M386.5,262.5 L390,279.5" />
<path d="M382.5,266.25 L388.75,280"/>
<path d="M383.75,263.75 L396.25,259.4 L402.5,273.75"/>
<ellipse cx="393" cy="270.6" rx="5" ry="2.1" transform="rotate(-25 393 270.6)"/>
<ellipse cx="393" cy="270.6" rx="3" ry="0.9" transform="rotate(-25 393 270.6)" stroke-width="0.9"/>
<path d="M395,256.25 L403.75,273"/>
<path d="M428.75,243.75 L437.5,262"/>
<path d="M442.5,234.4 C446,238 450,243 453,249.5"/>
<path d="M419,246.8 L438,236.5" stroke-width="0.9"/>
</g>
<g stroke-width="1.4" fill="#fff">
<path d="M352.0,257 L353.2,273 A6.2,2.6 0 0 0 365.59999999999997,270.5 L364.4,254.8"/>
<ellipse cx="358.2" cy="255.9" rx="6.2" ry="2.8" transform="rotate(-18 358.2 255.9)"/>
<ellipse cx="358.2" cy="255.9" rx="3.4000000000000004" ry="1" transform="rotate(-18 358.2 255.9)" stroke-width="0.9"/>
</g>
<g stroke-width="1.4" fill="#fff">
<path d="M400.1,236.3 L401.3,252.5 A6.2,2.6 0 0 0 413.7,250.0 L412.5,234.10000000000002"/>
<ellipse cx="406.3" cy="235.20000000000002" rx="6.2" ry="2.8" transform="rotate(-18 406.3 235.20000000000002)"/>
<ellipse cx="406.3" cy="235.20000000000002" rx="3.4000000000000004" ry="1" transform="rotate(-18 406.3 235.20000000000002)" stroke-width="0.9"/>
</g>
<path d="M338.75,247.5 L350,268.75" stroke-width="1" />
<path d="M344.4,252.5 L365,244.4 L372.5,257.5" stroke-width="1" />
<path d="M400,243.75 L393.75,230.6 L422.5,219" stroke-width="1" />
<path d="M417.5,225 L423.75,235" stroke-width="1" />
<path d="M439,264.5 L441.5,269.5" stroke-width="1" />
<path d="M366.5,295.5 L367.5,298" stroke-width="1" />
<g stroke-width="1.5" fill="#fff">
<path d="M327.5,142.5 C326,135 329,129 336,125 L361,110 L400,86.75 L437.5,64 L477.5,45.5 L497.5,36 C503,33 509,34 513.75,36.75 L520.6,40.5 L520.6,43 L512.5,46.75 L517.5,59 L515,63.6 L503.75,70.5 L501,68 L499.5,58 L492.5,62 L492.5,74.25 L478.75,78 L470,84 L455,89 L450,92.4 L446,90.5 L444,87.5 L432.5,94.5 L437.5,109.4 L428.75,114 L420,118 L418,113 L413.75,121 L407.5,125 L400,127.5 L390,133 L375,137.5 L366,140 L362.5,138.75 C361,134 357,132 353.75,133 C351,134 349.5,137 350,141 L351,147.5 L345,150 L340.6,140 C340.5,134 339,131 336,131 C333,131 331,134 330,140 Z"/>
</g>
<g stroke-width="1.5">
<path d="M376,106.5 L400,91.75 L438.75,70.5 L441,68 L477.5,50"/>
<path d="M437.5,64 C438,60.5 443,58 446.5,57.5"/>
<ellipse cx="442" cy="61.5" rx="4" ry="1.8" transform="rotate(-28 442 61.5)"/>
<ellipse cx="481.5" cy="44.5" rx="4" ry="1.8" transform="rotate(-25 481.5 44.5)"/>
<ellipse cx="463" cy="54" rx="8" ry="2" transform="rotate(-25 463 54)"/>
<path d="M438.5,66 L440.5,71 L444,69.5"/>
<path d="M491,48 C491,45 495,44 499,43.5 L505,40.5 L508.75,41.75"/>
<path d="M491,48 C493,50 496,50 497.5,48.6 L499.5,58"/>
<path d="M497.5,48.6 L505,40.5"/>
<path d="M501,52 L507.5,66.75"/>
<path d="M508.75,41.75 L517.5,59"/>
<path d="M512.5,46.75 L520.6,43"/>
<path d="M511.5,44.5 L519.5,40.8"/>
<path d="M431.25,91.5 L498.75,52.8" stroke-width="1.25"/>
<path d="M432.1,93.8 L499.4,55.2" stroke-width="1.25"/>
<path d="M433,96.1 L500.1,57.6" stroke-width="1.25"/>
<path d="M475,71 L478.75,78"/>
<path d="M484.5,66.5 L486,76"/>
<path d="M446,90.5 C448,88 451,86.5 455,85.5"/>
<path d="M455,84.5 L455,89"/>
<path d="M413.75,92.5 L422.5,87.5 L428.75,91 L437.5,109.4"/>
<path d="M413.75,92.5 L420,118"/>
<path d="M413.75,92.5 L419,95 L428.75,91" stroke-width="1"/>
<path d="M419,95 L425,116" stroke-width="1"/>
<path d="M336,125.6 C340,126.5 346,128 350,127.5 L361,120 L364,116.5"/>
<path d="M335,127.5 C340,128.5 346,130 350.5,129.5 L362,122"/>
<path d="M360,113.5 C360,110 380,103 384,104 C386,106 366,116 362,116 C360.5,116 360,115 360,113.5 Z" fill="#fff"/>
<path d="M363,113 L381,105"/>
<ellipse cx="352" cy="115.5" rx="3.2" ry="1.6" transform="rotate(-25 352 115.5)"/>
<path d="M384,104 L390,100 L396,97.5 L402,94"/>
<path d="M386,107 L392,103.5 L402,99"/>
<ellipse cx="391" cy="100.5" rx="3" ry="1.4" transform="rotate(-25 391 100.5)"/>
<ellipse cx="407" cy="92.5" rx="3" ry="1.4" transform="rotate(-25 407 92.5)"/>
<path d="M383,113 C384,108 390,105.5 396,105 C401,105 403,108 406,110 L411,109 L418,105.5"/>
<path d="M385.5,114.5 C386.5,110.5 391,108 396,107.5 C400,107.5 402,110.5 405,112.5 L412,111"/>
<path d="M388,111 C391,111 394,117 395,122"/>
<path d="M395,122 L398,121.5 L399.5,126"/>
<path d="M398,110 L399.5,126" />
<path d="M405,113 L406.5,124" />
<path d="M364,124 C366,128 370,130 372.5,130 L373.5,137"/>
<path d="M372.5,118 C373.5,122 373.5,126 372.5,130"/>
<path d="M340.6,140 L339.5,131" stroke-width="1"/>
</g>
<g stroke-width="1.4" fill="#fff">
<g transform="translate(335.29,48.27) rotate(61.47)">
<path d="M0,-3.2 L33.8,-3.2 Q35.0,-3.2 35.0,-2.0 L35.0,2.0 Q35.0,3.2 33.8,3.2 L0,3.2 Z"/>
<path d="M32.7,-3.5500000000000003 Q34.0,0 32.4,3.5500000000000003" stroke-width="1.2" fill="none"/>
<path d="M30.0,-3.5500000000000003 Q31.3,0 29.7,3.5500000000000003" stroke-width="1.2" fill="none"/>
<path d="M27.3,-3.5500000000000003 Q28.6,0 27.0,3.5500000000000003" stroke-width="1.2" fill="none"/>
<path d="M24.6,-3.5500000000000003 Q25.9,0 24.3,3.5500000000000003" stroke-width="1.2" fill="none"/>
<path d="M21.9,-3.5500000000000003 Q23.2,0 21.6,3.5500000000000003" stroke-width="1.2" fill="none"/>
</g>
<ellipse cx="335.6" cy="49.8" rx="8.5" ry="3.57" transform="rotate(-11.0 335.3 48.3)"/>
<ellipse cx="335.3" cy="48.3" rx="8.5" ry="3.57" transform="rotate(-11.0 335.3 48.3)"/>
<path d="M328.2,40.4 L328.7,42.7 L329.9,46.6 L335.6,47.6 L340.1,44.9 L339.6,42.5 Z"/>
<path d="M329.5,44.2 L329.9,46.6" stroke-width="1.1" fill="none"/>
<path d="M335.2,45.3 L335.6,47.6" stroke-width="1.1" fill="none"/>
<path d="M339.6,42.5 L335.2,45.3 L329.5,44.2 L328.2,40.4 L332.7,37.6 L338.4,38.7 Z"/>
<ellipse cx="333.9" cy="41.5" rx="2.7" ry="2.0" stroke-width="1.1" transform="rotate(-11.0 333.9 41.5)"/>
</g>
<g stroke-width="1.4" fill="#fff">
<g transform="translate(385.38,33.29) rotate(62.57)">
<path d="M0,-3.2 L32.3,-3.2 Q33.5,-3.2 33.5,-2.0 L33.5,2.0 Q33.5,3.2 32.3,3.2 L0,3.2 Z"/>
<path d="M31.2,-3.5500000000000003 Q32.5,0 30.9,3.5500000000000003" stroke-width="1.2" fill="none"/>
<path d="M28.5,-3.5500000000000003 Q29.8,0 28.2,3.5500000000000003" stroke-width="1.2" fill="none"/>
<path d="M25.8,-3.5500000000000003 Q27.1,0 25.5,3.5500000000000003" stroke-width="1.2" fill="none"/>
<path d="M23.1,-3.5500000000000003 Q24.4,0 22.8,3.5500000000000003" stroke-width="1.2" fill="none"/>
<path d="M20.4,-3.5500000000000003 Q21.7,0 20.1,3.5500000000000003" stroke-width="1.2" fill="none"/>
</g>
<ellipse cx="385.7" cy="34.9" rx="8.5" ry="3.57" transform="rotate(-10.5 385.4 33.3)"/>
<ellipse cx="385.4" cy="33.3" rx="8.5" ry="3.57" transform="rotate(-10.5 385.4 33.3)"/>
<path d="M378.4,25.4 L378.8,27.7 L380.0,31.6 L385.7,32.7 L390.2,29.9 L389.8,27.6 Z"/>
<path d="M379.6,29.2 L380.0,31.6" stroke-width="1.1" fill="none"/>
<path d="M385.3,30.3 L385.7,32.7" stroke-width="1.1" fill="none"/>
<path d="M389.8,27.6 L385.3,30.3 L379.6,29.2 L378.4,25.4 L382.9,22.6 L388.5,23.7 Z"/>
<ellipse cx="384.1" cy="26.5" rx="2.7" ry="2.0" stroke-width="1.1" transform="rotate(-10.5 384.1 26.5)"/>
</g>
<g stroke-width="1.4" fill="#fff">
<g transform="translate(388.29,170.27) rotate(60.49)">
<path d="M0,-3.2 L26.6,-3.2 Q27.8,-3.2 27.8,-2.0 L27.8,2.0 Q27.8,3.2 26.6,3.2 L0,3.2 Z"/>
<path d="M25.5,-3.5500000000000003 Q26.8,0 25.2,3.5500000000000003" stroke-width="1.2" fill="none"/>
<path d="M22.8,-3.5500000000000003 Q24.1,0 22.5,3.5500000000000003" stroke-width="1.2" fill="none"/>
<path d="M20.1,-3.5500000000000003 Q21.4,0 19.8,3.5500000000000003" stroke-width="1.2" fill="none"/>
<path d="M17.4,-3.5500000000000003 Q18.7,0 17.1,3.5500000000000003" stroke-width="1.2" fill="none"/>
</g>
<ellipse cx="388.6" cy="171.8" rx="8.5" ry="3.57" transform="rotate(-10.9 388.3 170.3)"/>
<ellipse cx="388.3" cy="170.3" rx="8.5" ry="3.57" transform="rotate(-10.9 388.3 170.3)"/>
<path d="M381.2,162.4 L381.7,164.7 L382.9,168.6 L388.6,169.6 L393.1,166.9 L392.6,164.5 Z"/>
<path d="M382.4,166.2 L382.9,168.6" stroke-width="1.1" fill="none"/>
<path d="M388.1,167.3 L388.6,169.6" stroke-width="1.1" fill="none"/>
<path d="M392.6,164.5 L388.1,167.3 L382.4,166.2 L381.2,162.4 L385.7,159.6 L391.4,160.7 Z"/>
<ellipse cx="386.9" cy="163.5" rx="2.7" ry="2.0" stroke-width="1.1" transform="rotate(-10.9 386.9 163.5)"/>
</g>
<g stroke-width="1.4" fill="#fff">
<g transform="translate(321.06,216.71) rotate(57.77)">
<path d="M0,-3.2 L28.7,-3.2 Q29.9,-3.2 29.9,-2.0 L29.9,2.0 Q29.9,3.2 28.7,3.2 L0,3.2 Z"/>
<path d="M27.6,-3.5500000000000003 Q28.9,0 27.3,3.5500000000000003" stroke-width="1.2" fill="none"/>
<path d="M24.9,-3.5500000000000003 Q26.2,0 24.6,3.5500000000000003" stroke-width="1.2" fill="none"/>
<path d="M22.2,-3.5500000000000003 Q23.5,0 21.9,3.5500000000000003" stroke-width="1.2" fill="none"/>
<path d="M19.5,-3.5500000000000003 Q20.8,0 19.2,3.5500000000000003" stroke-width="1.2" fill="none"/>
</g>
<ellipse cx="321.4" cy="218.3" rx="8.5" ry="3.57" transform="rotate(-12.1 321.1 216.7)"/>
<ellipse cx="321.1" cy="216.7" rx="8.5" ry="3.57" transform="rotate(-12.1 321.1 216.7)"/>
<path d="M313.8,209.0 L314.3,211.3 L315.6,215.1 L321.4,216.1 L325.8,213.2 L325.2,210.9 Z"/>
<path d="M315.1,212.8 L315.6,215.1" stroke-width="1.1" fill="none"/>
<path d="M320.8,213.8 L321.4,216.1" stroke-width="1.1" fill="none"/>
<path d="M325.2,210.9 L320.8,213.8 L315.1,212.8 L313.8,209.0 L318.2,206.1 L323.9,207.1 Z"/>
<ellipse cx="319.5" cy="209.9" rx="2.7" ry="2.0" stroke-width="1.1" transform="rotate(-12.1 319.5 209.9)"/>
</g>
<g stroke-width="1.4" fill="#fff">
<g transform="translate(245.75,392.78) rotate(61.61)">
<path d="M0,-3.2 L30.9,-3.2 Q32.1,-3.2 32.1,-2.0 L32.1,2.0 Q32.1,3.2 30.9,3.2 L0,3.2 Z"/>
<path d="M29.8,-3.5500000000000003 Q31.1,0 29.5,3.5500000000000003" stroke-width="1.2" fill="none"/>
<path d="M27.1,-3.5500000000000003 Q28.4,0 26.8,3.5500000000000003" stroke-width="1.2" fill="none"/>
<path d="M24.4,-3.5500000000000003 Q25.7,0 24.1,3.5500000000000003" stroke-width="1.2" fill="none"/>
<path d="M21.7,-3.5500000000000003 Q23.0,0 21.4,3.5500000000000003" stroke-width="1.2" fill="none"/>
<path d="M19.0,-3.5500000000000003 Q20.3,0 18.7,3.5500000000000003" stroke-width="1.2" fill="none"/>
<path d="M16.3,-3.5500000000000003 Q17.6,0 16.0,3.5500000000000003" stroke-width="1.2" fill="none"/>
</g>
<ellipse cx="246.1" cy="394.3" rx="8.25" ry="3.465" transform="rotate(-10.8 245.7 392.8)"/>
<ellipse cx="245.7" cy="392.8" rx="8.25" ry="3.465" transform="rotate(-10.8 245.7 392.8)"/>
<path d="M238.9,384.8 L239.4,387.4 L240.6,391.1 L246.1,392.2 L250.3,389.5 L249.8,386.8 Z"/>
<path d="M240.1,388.5 L240.6,391.1" stroke-width="1.1" fill="none"/>
<path d="M245.5,389.5 L246.1,392.2" stroke-width="1.1" fill="none"/>
<path d="M249.8,386.8 L245.5,389.5 L240.1,388.5 L238.9,384.8 L243.2,382.1 L248.6,383.2 Z"/>
<ellipse cx="244.4" cy="385.8" rx="2.6" ry="1.9" stroke-width="1.1" transform="rotate(-10.8 244.4 385.8)"/>
</g>
<g stroke-width="1.4" fill="#fff">
<g transform="translate(225.75,241.22) rotate(63.23)">
<path d="M0,-3.5 L87.0,-3.5 Q88.2,-3.5 88.2,-2.3 L88.2,2.3 Q88.2,3.5 87.0,3.5 L0,3.5 Z"/>
<path d="M85.9,-3.85 Q87.2,0 85.6,3.85" stroke-width="1.2" fill="none"/>
<path d="M83.2,-3.85 Q84.5,0 82.9,3.85" stroke-width="1.2" fill="none"/>
<path d="M80.5,-3.85 Q81.8,0 80.2,3.85" stroke-width="1.2" fill="none"/>
<path d="M77.8,-3.85 Q79.1,0 77.5,3.85" stroke-width="1.2" fill="none"/>
<path d="M75.1,-3.85 Q76.4,0 74.8,3.85" stroke-width="1.2" fill="none"/>
<path d="M72.4,-3.85 Q73.7,0 72.1,3.85" stroke-width="1.2" fill="none"/>
<path d="M69.7,-3.85 Q71.0,0 69.4,3.85" stroke-width="1.2" fill="none"/>
<path d="M67.0,-3.85 Q68.3,0 66.7,3.85" stroke-width="1.2" fill="none"/>
<path d="M64.3,-3.85 Q65.6,0 64.0,3.85" stroke-width="1.2" fill="none"/>
<path d="M61.6,-3.85 Q62.9,0 61.3,3.85" stroke-width="1.2" fill="none"/>
</g>
<ellipse cx="226.6" cy="245.3" rx="11.55" ry="4.895" transform="rotate(-11.2 226.6 245.3)"/>
<ellipse cx="226.3" cy="243.8" rx="11.55" ry="4.895" transform="rotate(-11.2 226.6 245.3)"/>
<ellipse cx="226.1" cy="242.8" rx="9.75" ry="4.095" transform="rotate(-11.2 225.7 241.2)"/>
<ellipse cx="225.7" cy="241.2" rx="9.75" ry="4.095" transform="rotate(-11.2 225.7 241.2)"/>
<path d="M216.2,232.6 L216.6,234.6 L218.4,240.0 L226.4,241.5 L232.8,237.5 L232.3,235.6 Z"/>
<path d="M218.0,238.0 L218.4,240.0" stroke-width="1.1" fill="none"/>
<path d="M226.0,239.5 L226.4,241.5" stroke-width="1.1" fill="none"/>
<path d="M232.3,235.6 L226.0,239.5 L218.0,238.0 L216.2,232.6 L222.5,228.6 L230.6,230.1 Z"/>
<ellipse cx="224.3" cy="234.1" rx="3.8" ry="2.8" stroke-width="1.1" transform="rotate(-11.2 224.3 234.1)"/>
</g>
<g stroke-width="1.4" fill="#fff">
<g transform="translate(655.34,70.70) rotate(61.64)">
<path d="M0,-3.5 L63.3,-3.5 Q64.5,-3.5 64.5,-2.3 L64.5,2.3 Q64.5,3.5 63.3,3.5 L0,3.5 Z"/>
<path d="M62.2,-3.85 Q63.5,0 61.9,3.85" stroke-width="1.2" fill="none"/>
<path d="M59.5,-3.85 Q60.8,0 59.2,3.85" stroke-width="1.2" fill="none"/>
<path d="M56.8,-3.85 Q58.1,0 56.5,3.85" stroke-width="1.2" fill="none"/>
<path d="M54.1,-3.85 Q55.4,0 53.8,3.85" stroke-width="1.2" fill="none"/>
<path d="M51.4,-3.85 Q52.7,0 51.1,3.85" stroke-width="1.2" fill="none"/>
<path d="M48.7,-3.85 Q50.0,0 48.4,3.85" stroke-width="1.2" fill="none"/>
</g>
<ellipse cx="656.2" cy="74.8" rx="11.3" ry="4.79" transform="rotate(-11.5 656.2 74.8)"/>
<ellipse cx="655.9" cy="73.2" rx="11.3" ry="4.79" transform="rotate(-11.5 656.2 74.8)"/>
<ellipse cx="655.7" cy="72.3" rx="9.5" ry="3.9899999999999998" transform="rotate(-11.5 655.3 70.7)"/>
<ellipse cx="655.3" cy="70.7" rx="9.5" ry="3.9899999999999998" transform="rotate(-11.5 655.3 70.7)"/>
<path d="M645.9,62.0 L646.3,64.0 L648.1,69.2 L656.0,70.6 L662.0,66.7 L661.6,64.8 Z"/>
<path d="M647.7,67.3 L648.1,69.2" stroke-width="1.1" fill="none"/>
<path d="M655.5,68.7 L656.0,70.6" stroke-width="1.1" fill="none"/>
<path d="M661.6,64.8 L655.5,68.7 L647.7,67.3 L645.9,62.0 L652.0,58.1 L659.9,59.5 Z"/>
<ellipse cx="653.8" cy="63.4" rx="3.7" ry="2.7" stroke-width="1.1" transform="rotate(-11.5 653.8 63.4)"/>
</g>
<g transform="translate(823,391.3) rotate(7.5)" stroke-width="1.4" fill="#fff">
<path d="M1.5,-3.4 L18,-3.4 L18,3.4 L1.5,3.4 Q0,3.4 0,0 Q0,-3.4 1.5,-3.4 Z"/>
<path d="M2.5,-3.7 Q4.0,0 2.5,3.7" stroke-width="1.2" fill="none"/>
<path d="M5.1,-3.7 Q6.6,0 5.1,3.7" stroke-width="1.2" fill="none"/>
<path d="M7.7,-3.7 Q9.2,0 7.7,3.7" stroke-width="1.2" fill="none"/>
<path d="M10.3,-3.7 Q11.8,0 10.3,3.7" stroke-width="1.2" fill="none"/>
<path d="M12.9,-3.7 Q14.4,0 12.9,3.7" stroke-width="1.2" fill="none"/>
<path d="M15.5,-3.7 Q17.0,0 15.5,3.7" stroke-width="1.2" fill="none"/>
<ellipse cx="19.5" cy="0" rx="2.2" ry="7.3"/>
<ellipse cx="21" cy="0" rx="2.2" ry="7.3"/>
<path d="M22,-6 L30,-6.2 Q35,-5.5 35.5,0 Q35,5.5 30,6.2 L22,6 Z"/>
<ellipse cx="30.5" cy="0" rx="4.6" ry="6"/>
<path d="M22.5,-2.2 L27,-2.3 M22.5,2.6 L27,2.7" stroke-width="1.1" fill="none"/>
</g>
<g transform="translate(460,107) rotate(-25)" stroke-width="1.35" fill="#fff">
<path d="M-4.75,-4.5 L-4.75,4.5 A4.75,2 0 0 0 4.75,4.5 L4.75,-4.5"/>
<ellipse cx="0" cy="-4.5" rx="4.75" ry="2"/>
<ellipse cx="0" cy="-4.5" rx="2.95" ry="0.9" stroke-width="0.8"/>
</g>
<g transform="translate(363,170.5) rotate(-25)" stroke-width="1.35" fill="#fff">
<path d="M-4.75,-4.5 L-4.75,4.5 A4.75,2 0 0 0 4.75,4.5 L4.75,-4.5"/>
<ellipse cx="0" cy="-4.5" rx="4.75" ry="2"/>
<ellipse cx="0" cy="-4.5" rx="2.95" ry="0.9" stroke-width="0.8"/>
</g>
<g transform="translate(491.5,180) rotate(-25)" stroke-width="1.35" fill="#fff">
<path d="M-5.5,-5.25 L-5.5,5.25 A5.5,2 0 0 0 5.5,5.25 L5.5,-5.25"/>
<ellipse cx="0" cy="-5.25" rx="5.5" ry="2"/>
<ellipse cx="0" cy="-5.25" rx="3.7" ry="0.9" stroke-width="0.8"/>
</g>
<g transform="translate(457.5,201) rotate(-25)" stroke-width="1.35" fill="#fff">
<path d="M-5.5,-5.25 L-5.5,5.25 A5.5,2 0 0 0 5.5,5.25 L5.5,-5.25"/>
<ellipse cx="0" cy="-5.25" rx="5.5" ry="2"/>
<ellipse cx="0" cy="-5.25" rx="3.7" ry="0.9" stroke-width="0.8"/>
</g>
<g transform="translate(369.5,304.5) rotate(-25)" stroke-width="1.35" fill="#fff">
<path d="M-4.75,-4.5 L-4.75,4.5 A4.75,2 0 0 0 4.75,4.5 L4.75,-4.5"/>
<ellipse cx="0" cy="-4.5" rx="4.75" ry="2"/>
<ellipse cx="0" cy="-4.5" rx="2.95" ry="0.9" stroke-width="0.8"/>
</g>
<g transform="translate(445.7,277.4) rotate(-25)" stroke-width="1.35" fill="#fff">
<path d="M-4.75,-4.5 L-4.75,4.5 A4.75,2 0 0 0 4.75,4.5 L4.75,-4.5"/>
<ellipse cx="0" cy="-4.5" rx="4.75" ry="2"/>
<ellipse cx="0" cy="-4.5" rx="2.95" ry="0.9" stroke-width="0.8"/>
</g>
<g transform="translate(664.5,410.5) rotate(-25)" stroke-width="1.35" fill="#fff">
<path d="M-6.0,-5.75 L-6.0,5.75 A6.0,2 0 0 0 6.0,5.75 L6.0,-5.75"/>
<ellipse cx="0" cy="-5.75" rx="6.0" ry="2"/>
<ellipse cx="0" cy="-5.75" rx="4.2" ry="0.9" stroke-width="0.8"/>
</g>
<g transform="translate(512.5,501) rotate(-28)" stroke-width="1.35" fill="#fff">
<path d="M-6.0,-6.0 L-6.0,6.0 A6.0,2 0 0 0 6.0,6.0 L6.0,-6.0"/>
<ellipse cx="0" cy="-6.0" rx="6.0" ry="2"/>
<ellipse cx="0" cy="-6.0" rx="4.2" ry="0.9" stroke-width="0.8"/>
</g>
<g stroke-width="1" fill="#fff">
<rect x="471.0" y="511" width="8" height="41" rx="2"/>
<line x1="471.0" y1="513.0" x2="479.0" y2="513.8" stroke-width="0.9"/>
<line x1="471.0" y1="515.4" x2="479.0" y2="516.2" stroke-width="0.9"/>
<line x1="471.0" y1="517.8" x2="479.0" y2="518.6" stroke-width="0.9"/>
<line x1="471.0" y1="520.2" x2="479.0" y2="521.0" stroke-width="0.9"/>
<line x1="471.0" y1="522.6" x2="479.0" y2="523.4" stroke-width="0.9"/>
<line x1="471.0" y1="525.0" x2="479.0" y2="525.8" stroke-width="0.9"/>
<line x1="471.0" y1="537.0" x2="479.0" y2="537.8" stroke-width="0.9"/>
<line x1="471.0" y1="539.4" x2="479.0" y2="540.2" stroke-width="0.9"/>
<line x1="471.0" y1="541.8" x2="479.0" y2="542.6" stroke-width="0.9"/>
<line x1="471.0" y1="544.2" x2="479.0" y2="545.0" stroke-width="0.9"/>
<line x1="471.0" y1="546.6" x2="479.0" y2="547.4" stroke-width="0.9"/>
<line x1="471.0" y1="549.0" x2="479.0" y2="549.8" stroke-width="0.9"/>
</g>
<g stroke-width="1" fill="#fff">
<rect x="550.0" y="478" width="8" height="43" rx="2"/>
<line x1="550.0" y1="480.0" x2="558.0" y2="480.8" stroke-width="0.9"/>
<line x1="550.0" y1="482.4" x2="558.0" y2="483.2" stroke-width="0.9"/>
<line x1="550.0" y1="484.8" x2="558.0" y2="485.6" stroke-width="0.9"/>
<line x1="550.0" y1="487.2" x2="558.0" y2="488.0" stroke-width="0.9"/>
<line x1="550.0" y1="489.6" x2="558.0" y2="490.4" stroke-width="0.9"/>
<line x1="550.0" y1="492.0" x2="558.0" y2="492.8" stroke-width="0.9"/>
<line x1="550.0" y1="504.0" x2="558.0" y2="504.8" stroke-width="0.9"/>
<line x1="550.0" y1="506.4" x2="558.0" y2="507.2" stroke-width="0.9"/>
<line x1="550.0" y1="508.8" x2="558.0" y2="509.6" stroke-width="0.9"/>
<line x1="550.0" y1="511.2" x2="558.0" y2="512.0" stroke-width="0.9"/>
<line x1="550.0" y1="513.6" x2="558.0" y2="514.4" stroke-width="0.9"/>
<line x1="550.0" y1="516.0" x2="558.0" y2="516.8" stroke-width="0.9"/>
<line x1="550.0" y1="518.4" x2="558.0" y2="519.2" stroke-width="0.9"/>
</g>
<g transform="translate(358.75,90.5) rotate(-20)" fill="#fff" stroke-width="1.1"><path d="M-8.5,0 L-8.5,1.6 A8.5,3.6 0 0 0 8.5,1.6 L8.5,0"/><ellipse cx="0" cy="0" rx="8.5" ry="3.6"/><ellipse cx="0" cy="0" rx="3.5" ry="1.3"/></g>
<ellipse cx="735.5" cy="392" rx="9.4" ry="11.8" stroke-width="1.4" fill="#fff"/><ellipse cx="735.5" cy="392" rx="7" ry="9.3" stroke-width="1.3"/>
<g stroke-width="1.4" fill="#fff">
<path d="M763.0999999999999,131 L763.0999999999999,141 A34.7,17.8 0 0 0 832.5,141 L832.5,131 Z"/>
<ellipse cx="797.8" cy="131" rx="34.7" ry="17.8"/>
<ellipse cx="797.8" cy="130.7" rx="29" ry="15.1"/>
<path d="M770.3,134.5 A28,15.1 0 0 1 825.3,134.5" fill="none"/>
</g>
<g stroke-width="1.4" fill="#fff">
<path d="M832.8,134.5 L839.8,132.0 L842.3,133.5 L842.3,143.5 L835.8,145.5 L832.8,143.5 Z"/>
<path d="M839.8,132.0 L840.3,144.3" stroke-width="1"/>
<ellipse cx="836.8" cy="139.5" rx="1.3" ry="1.8" stroke-width="1.1"/>
<path d="M823.5,147.0 L831.5,144.5 L835.0,146.5 C836.5,149.5 836.5,154.5 834.5,158.0 C833.0,159.5 831.0,159.0 830.5,156.5 L824.5,154.5 Z"/>
<path d="M830.5,146.5 L830.5,156.5" stroke-width="1"/>
<rect x="826.0" y="149.0" width="2.6" height="3.5" stroke-width="1.1"/>
</g>
<path d="M842,133.5 L845.5,129.5" stroke-width="1" />
<path d="M821.5,156.5 L817,161.5" stroke-width="1" />
<g stroke-width="1.4" fill="#fff">
<path d="M804.5,165.0 L808,162.0 L814,162.5 L816,165.5 L816,170.5 L812.5,173.5 L807,173.5 L804.5,170.5 Z"/>
<path d="M804.5,165.0 L809,165.0 L811.5,162.2 M809,165.0 L809.5,173.5" stroke-width="1"/>
<ellipse cx="807" cy="169.1" rx="1.3" ry="1.9" stroke-width="1.1"/>
</g>
<g transform="translate(864,110.5) rotate(134.12)" stroke-width="1.3" fill="#fff">
<path d="M5,-3.0 L21.483689869122408,-3.0 Q22.983689869122408,-3.0 22.983689869122408,0 Q22.983689869122408,3.0 21.483689869122408,3.0 L5,3.0 Z"/>
<path d="M7.5,-3.0 Q8.9,0 7.5,3.0" stroke-width="1.1"/>
<path d="M9.8,-3.0 Q11.2,0 9.8,3.0" stroke-width="1.1"/>
<path d="M12.1,-3.0 Q13.5,0 12.1,3.0" stroke-width="1.1"/>
<path d="M14.4,-3.0 Q15.8,0 14.4,3.0" stroke-width="1.1"/>
<path d="M16.7,-3.0 Q18.1,0 16.7,3.0" stroke-width="1.1"/>
<path d="M19.0,-3.0 Q20.4,0 19.0,3.0" stroke-width="1.1"/>
<path d="M21.3,-3.0 Q22.7,0 21.3,3.0" stroke-width="1.1"/>
<ellipse cx="5" cy="0" rx="1.8" ry="5.3"/>
<path d="M3.8,-5.5 L-1.5,-5.5 Q-4.5,-4 -5,0 Q-4.5,4 -1.5,5.5 L3.8,5.5 Z"/>
<path d="M-4,-2 L3.5,-2.2 M-4,2.4 L3.5,2.4" stroke-width="1"/>
</g>
<g stroke-width="1.4" fill="#fff">
<path d="M760.0,294.25 L760.0,304.25 A31.9,15.6 0 0 0 823.8,304.25 L823.8,294.25 Z"/>
<ellipse cx="791.9" cy="294.25" rx="31.9" ry="15.6"/>
<ellipse cx="791.9" cy="293.95" rx="27.8" ry="13.75"/>
<path d="M765.6,297.75 A26.8,13.75 0 0 1 818.1999999999999,297.75" fill="none"/>
<ellipse cx="773" cy="290.5" rx="1.1" ry="1.5" stroke-width="1"/>
<ellipse cx="810.6" cy="290" rx="1.1" ry="1.5" stroke-width="1"/>
<ellipse cx="773.75" cy="312.4" rx="1.1" ry="1.5" stroke-width="1"/>
</g>
<g stroke-width="1.4" fill="#fff">
<path d="M824.2,299.5 L831.2,297.0 L833.7,298.5 L833.7,308.5 L827.2,310.5 L824.2,308.5 Z"/>
<path d="M831.2,297.0 L831.7,309.3" stroke-width="1"/>
<ellipse cx="828.2" cy="304.5" rx="1.3" ry="1.8" stroke-width="1.1"/>
<path d="M812.5,310.5 L820.5,308 L824.0,310 C825.5,313 825.5,318 823.5,321.5 C822.0,323 820.0,322.5 819.5,320 L813.5,318 Z"/>
<path d="M819.5,310 L819.5,320" stroke-width="1"/>
<rect x="815.0" y="312.5" width="2.6" height="3.5" stroke-width="1.1"/>
</g>
<path d="M811.5,319.5 L807,324.5" stroke-width="1" />
<g stroke-width="1.4" fill="#fff">
<path d="M796.0,327.5 L799.5,324.5 L805.5,325 L807.5,328 L807.5,333 L804.0,336 L798.5,336 L796.0,333 Z"/>
<path d="M796.0,327.5 L800.5,327.5 L803.0,324.7 M800.5,327.5 L801.0,336" stroke-width="1"/>
<ellipse cx="798.5" cy="331.6" rx="1.3" ry="1.9" stroke-width="1.1"/>
</g>
<g transform="translate(853,275) rotate(133.81)" stroke-width="1.3" fill="#fff">
<path d="M5,-3.0 L22.33463865889306,-3.0 Q23.83463865889306,-3.0 23.83463865889306,0 Q23.83463865889306,3.0 22.33463865889306,3.0 L5,3.0 Z"/>
<path d="M7.5,-3.0 Q8.9,0 7.5,3.0" stroke-width="1.1"/>
<path d="M9.8,-3.0 Q11.2,0 9.8,3.0" stroke-width="1.1"/>
<path d="M12.1,-3.0 Q13.5,0 12.1,3.0" stroke-width="1.1"/>
<path d="M14.4,-3.0 Q15.8,0 14.4,3.0" stroke-width="1.1"/>
<path d="M16.7,-3.0 Q18.1,0 16.7,3.0" stroke-width="1.1"/>
<path d="M19.0,-3.0 Q20.4,0 19.0,3.0" stroke-width="1.1"/>
<path d="M21.3,-3.0 Q22.7,0 21.3,3.0" stroke-width="1.1"/>
<ellipse cx="5" cy="0" rx="1.8" ry="5.3"/>
<path d="M3.8,-5.5 L-1.5,-5.5 Q-4.5,-4 -5,0 Q-4.5,4 -1.5,5.5 L3.8,5.5 Z"/>
<path d="M-4,-2 L3.5,-2.2 M-4,2.4 L3.5,2.4" stroke-width="1"/>
</g>
<g stroke-width="1.4" fill="#fff">
<path d="M761,201 L761,250 A31.5,13.5 0 0 0 824,250 L824.5,232 L831,226 L831.4,201 Z"/>
<path d="M761,250 A31.5,13 0 0 0 824,250" fill="none"/>
<path d="M761.5,246 A31.5,13 0 0 0 823.5,246" fill="none"/>
<path d="M761,241 A31.5,13 0 0 0 824,241" fill="none"/>
<path d="M763,236.5 A30,12 0 0 0 823,236.5" fill="none" stroke-width="1.1"/>
<path d="M808.5,262 L808.5,264.5 Q810,267 813,265.5 L814,262.5 L818,262 L818.5,258.5"/>
<path d="M765,226 Q790,240 823,232" fill="none"/>
<path d="M766,229.5 Q790,243 822,236" fill="none" stroke-width="1.1"/>
<rect x="777" y="232.5" width="4" height="2" stroke-width="1" transform="rotate(12 779 233.5)"/>
<path d="M760.5,214 L760.5,219 A35.3,15 0 0 0 831,219 L831,214" />
<path d="M760.5,215 A35.3,15 0 0 0 831,215" fill="none"/>
<path d="M762.5,209 A34,15 0 0 0 830,209" fill="none"/>
<path d="M761,201 L761,203.5 A35.2,17.9 0 0 0 831.4,203.5 L831.4,201 Z"/>
<ellipse cx="796.2" cy="201" rx="35.2" ry="17.9"/>
<ellipse cx="797" cy="201" rx="26.8" ry="12.5"/>
<path d="M773.5,197 A23.5,10.5 0 0 1 820.5,197" fill="none"/>
<path d="M774,205 A23,9.5 0 0 0 820,205" fill="none" stroke-width="1.1"/>
<path d="M776.5,202 A20.5,8.5 0 0 1 817.5,202" fill="none" stroke-width="1.1"/>
<path d="M778,207.5 A19,6.5 0 0 1 816,207.5" fill="none" stroke-width="1.1"/>
</g>
<g stroke="none" fill="#222">
<circle cx="804.6" cy="243.3" r="0.5"/>
<circle cx="812.8" cy="257.8" r="0.5"/>
<circle cx="763.0" cy="221.2" r="0.5"/>
<circle cx="824.1" cy="193.1" r="0.5"/>
<circle cx="793.8" cy="203.7" r="0.5"/>
<circle cx="799.1" cy="229.9" r="0.5"/>
<circle cx="761.9" cy="201.3" r="0.5"/>
<circle cx="780.6" cy="257.3" r="0.5"/>
<circle cx="814.6" cy="196.8" r="0.5"/>
<circle cx="816.8" cy="195.1" r="0.5"/>
<circle cx="804.2" cy="194.1" r="0.5"/>
<circle cx="775.7" cy="201.2" r="0.5"/>
<circle cx="781.3" cy="260.9" r="0.5"/>
<circle cx="798.7" cy="238.2" r="0.5"/>
<circle cx="775.3" cy="259.3" r="0.5"/>
<circle cx="809.3" cy="261.3" r="0.5"/>
<circle cx="823.6" cy="207.9" r="0.5"/>
<circle cx="786.3" cy="197.3" r="0.5"/>
<circle cx="771.2" cy="189.2" r="0.5"/>
<circle cx="782.1" cy="232.2" r="0.5"/>
<circle cx="761.2" cy="238.2" r="0.5"/>
<circle cx="784.7" cy="208.8" r="0.5"/>
<circle cx="818.3" cy="222.5" r="0.5"/>
<circle cx="783.1" cy="222.5" r="0.5"/>
<circle cx="810.3" cy="188.6" r="0.5"/>
<circle cx="813.5" cy="251.6" r="0.5"/>
<circle cx="762.3" cy="247.0" r="0.5"/>
<circle cx="786.6" cy="230.3" r="0.5"/>
<circle cx="773.7" cy="260.4" r="0.5"/>
<circle cx="774.8" cy="244.5" r="0.5"/>
<circle cx="785.1" cy="212.4" r="0.5"/>
<circle cx="797.7" cy="246.0" r="0.5"/>
<circle cx="768.6" cy="243.9" r="0.5"/>
<circle cx="816.8" cy="252.8" r="0.5"/>
<circle cx="767.4" cy="211.3" r="0.5"/>
<circle cx="803.8" cy="257.4" r="0.5"/>
<circle cx="784.8" cy="257.9" r="0.5"/>
<circle cx="799.2" cy="209.0" r="0.5"/>
<circle cx="783.2" cy="198.2" r="0.5"/>
<circle cx="766.5" cy="195.9" r="0.5"/>
<circle cx="772.3" cy="187.9" r="0.5"/>
<circle cx="830.1" cy="226.7" r="0.5"/>
<circle cx="789.4" cy="203.0" r="0.5"/>
<circle cx="802.6" cy="250.1" r="0.5"/>
<circle cx="792.9" cy="217.7" r="0.5"/>
<circle cx="763.3" cy="223.5" r="0.5"/>
<circle cx="819.7" cy="194.4" r="0.5"/>
<circle cx="812.2" cy="260.0" r="0.5"/>
<circle cx="805.1" cy="247.0" r="0.5"/>
<circle cx="768.5" cy="218.8" r="0.5"/>
<circle cx="771.4" cy="251.6" r="0.5"/>
<circle cx="781.6" cy="220.3" r="0.5"/>
<circle cx="829.3" cy="220.3" r="0.5"/>
<circle cx="795.2" cy="242.4" r="0.5"/>
<circle cx="794.5" cy="207.3" r="0.5"/>
<circle cx="789.3" cy="195.7" r="0.5"/>
<circle cx="787.4" cy="263.1" r="0.5"/>
<circle cx="796.0" cy="211.1" r="0.5"/>
<circle cx="767.2" cy="205.8" r="0.5"/>
<circle cx="815.7" cy="253.4" r="0.5"/>
<circle cx="786.3" cy="246.9" r="0.5"/>
<circle cx="815.2" cy="239.6" r="0.5"/>
<circle cx="807.5" cy="244.8" r="0.5"/>
<circle cx="786.4" cy="240.4" r="0.5"/>
<circle cx="780.7" cy="222.9" r="0.5"/>
<circle cx="814.9" cy="239.3" r="0.5"/>
<circle cx="781.6" cy="259.6" r="0.5"/>
<circle cx="806.5" cy="230.5" r="0.5"/>
<circle cx="761.8" cy="227.8" r="0.5"/>
<circle cx="778.5" cy="237.7" r="0.5"/>
<circle cx="793.4" cy="249.3" r="0.5"/>
<circle cx="806.3" cy="247.8" r="0.5"/>
<circle cx="785.4" cy="235.5" r="0.5"/>
<circle cx="812.6" cy="250.3" r="0.5"/>
<circle cx="785.5" cy="251.4" r="0.5"/>
<circle cx="821.9" cy="239.1" r="0.5"/>
<circle cx="797.3" cy="226.3" r="0.5"/>
<circle cx="772.6" cy="250.9" r="0.5"/>
<circle cx="826.6" cy="222.2" r="0.5"/>
<circle cx="809.4" cy="241.6" r="0.5"/>
<circle cx="812.1" cy="197.7" r="0.5"/>
<circle cx="815.6" cy="230.5" r="0.5"/>
<circle cx="807.6" cy="217.7" r="0.5"/>
<circle cx="804.7" cy="246.0" r="0.5"/>
<circle cx="805.6" cy="241.6" r="0.5"/>
<circle cx="762.9" cy="196.8" r="0.5"/>
<circle cx="791.9" cy="236.0" r="0.5"/>
<circle cx="776.3" cy="238.9" r="0.5"/>
<circle cx="805.2" cy="187.3" r="0.5"/>
<circle cx="794.0" cy="202.1" r="0.5"/>
<circle cx="764.8" cy="194.7" r="0.5"/>
<circle cx="783.2" cy="198.5" r="0.5"/>
<circle cx="793.6" cy="214.4" r="0.5"/>
<circle cx="803.8" cy="231.2" r="0.5"/>
<circle cx="777.6" cy="256.3" r="0.5"/>
<circle cx="761.0" cy="216.4" r="0.5"/>
<circle cx="780.5" cy="216.8" r="0.5"/>
<circle cx="769.1" cy="250.5" r="0.5"/>
<circle cx="787.2" cy="186.9" r="0.5"/>
<circle cx="803.9" cy="191.6" r="0.5"/>
<circle cx="799.2" cy="211.1" r="0.5"/>
<circle cx="801.7" cy="260.7" r="0.5"/>
<circle cx="818.3" cy="217.5" r="0.5"/>
<circle cx="817.9" cy="235.4" r="0.5"/>
<circle cx="786.9" cy="195.4" r="0.5"/>
<circle cx="802.7" cy="229.1" r="0.5"/>
<circle cx="803.6" cy="212.1" r="0.5"/>
<circle cx="768.6" cy="229.3" r="0.5"/>
<circle cx="804.1" cy="195.3" r="0.5"/>
<circle cx="805.1" cy="255.3" r="0.5"/>
<circle cx="787.3" cy="218.5" r="0.5"/>
<circle cx="776.8" cy="207.3" r="0.5"/>
<circle cx="829.1" cy="214.4" r="0.5"/>
<circle cx="802.7" cy="204.8" r="0.5"/>
<circle cx="829.7" cy="223.7" r="0.5"/>
<circle cx="790.1" cy="209.5" r="0.5"/>
<circle cx="829.9" cy="223.3" r="0.5"/>
<circle cx="781.0" cy="222.2" r="0.5"/>
<circle cx="769.5" cy="233.7" r="0.5"/>
<circle cx="792.0" cy="207.4" r="0.5"/>
<circle cx="815.7" cy="250.1" r="0.5"/>
<circle cx="761.9" cy="226.6" r="0.5"/>
<circle cx="780.2" cy="258.8" r="0.5"/>
<circle cx="815.7" cy="203.7" r="0.5"/>
<circle cx="779.7" cy="196.4" r="0.5"/>
<circle cx="830.2" cy="207.5" r="0.5"/>
<circle cx="803.6" cy="222.0" r="0.5"/>
<circle cx="806.1" cy="232.3" r="0.5"/>
<circle cx="813.0" cy="193.5" r="0.5"/>
<circle cx="814.2" cy="208.1" r="0.5"/>
<circle cx="798.3" cy="210.9" r="0.5"/>
<circle cx="781.8" cy="226.4" r="0.5"/>
<circle cx="793.5" cy="212.9" r="0.5"/>
<circle cx="813.2" cy="231.3" r="0.5"/>
<circle cx="763.6" cy="204.2" r="0.5"/>
<circle cx="792.9" cy="257.3" r="0.5"/>
<circle cx="823.2" cy="227.6" r="0.5"/>
<circle cx="762.0" cy="246.3" r="0.5"/>
<circle cx="790.9" cy="230.1" r="0.5"/>
<circle cx="810.6" cy="234.6" r="0.5"/>
<circle cx="794.7" cy="256.9" r="0.5"/>
<circle cx="788.0" cy="215.3" r="0.5"/>
<circle cx="820.6" cy="199.7" r="0.5"/>
<circle cx="781.8" cy="250.4" r="0.5"/>
<circle cx="765.6" cy="250.9" r="0.5"/>
<circle cx="809.6" cy="218.6" r="0.5"/>
<circle cx="781.0" cy="246.5" r="0.5"/>
<circle cx="824.7" cy="195.4" r="0.5"/>
<circle cx="794.5" cy="227.9" r="0.5"/>
<circle cx="795.8" cy="210.5" r="0.5"/>
<circle cx="771.7" cy="230.9" r="0.5"/>
<circle cx="817.8" cy="189.5" r="0.5"/>
<circle cx="777.1" cy="249.6" r="0.5"/>
<circle cx="816.4" cy="237.1" r="0.5"/>
<circle cx="762.8" cy="241.8" r="0.5"/>
<circle cx="810.1" cy="187.9" r="0.5"/>
<circle cx="819.9" cy="201.5" r="0.5"/>
<circle cx="806.2" cy="260.2" r="0.5"/>
<circle cx="810.9" cy="194.8" r="0.5"/>
<circle cx="781.5" cy="257.4" r="0.5"/>
<circle cx="771.5" cy="232.8" r="0.5"/>
<circle cx="790.0" cy="196.9" r="0.5"/>
<circle cx="804.6" cy="187.5" r="0.5"/>
<circle cx="768.6" cy="214.3" r="0.5"/>
<circle cx="801.3" cy="243.4" r="0.5"/>
<circle cx="822.5" cy="194.7" r="0.5"/>
<circle cx="791.2" cy="209.2" r="0.5"/>
<circle cx="803.0" cy="223.2" r="0.5"/>
<circle cx="826.7" cy="213.9" r="0.5"/>
<circle cx="764.9" cy="239.8" r="0.5"/>
<circle cx="771.6" cy="234.5" r="0.5"/>
<circle cx="796.4" cy="256.8" r="0.5"/>
<circle cx="799.8" cy="233.7" r="0.5"/>
<circle cx="779.4" cy="228.1" r="0.5"/>
<circle cx="778.8" cy="244.0" r="0.5"/>
<circle cx="797.2" cy="194.7" r="0.5"/>
<circle cx="777.4" cy="213.7" r="0.5"/>
<circle cx="812.6" cy="198.3" r="0.5"/>
<circle cx="810.9" cy="236.4" r="0.5"/>
<circle cx="767.0" cy="237.4" r="0.5"/>
<circle cx="767.4" cy="194.0" r="0.5"/>
<circle cx="802.6" cy="203.1" r="0.5"/>
<circle cx="822.4" cy="222.4" r="0.5"/>
<circle cx="783.6" cy="247.7" r="0.5"/>
<circle cx="763.1" cy="242.0" r="0.5"/>
<circle cx="764.8" cy="196.1" r="0.5"/>
<circle cx="776.6" cy="193.3" r="0.5"/>
<circle cx="818.4" cy="195.2" r="0.5"/>
<circle cx="804.7" cy="212.3" r="0.5"/>
<circle cx="777.5" cy="210.7" r="0.5"/>
<circle cx="804.0" cy="211.9" r="0.5"/>
<circle cx="788.0" cy="194.9" r="0.5"/>
<circle cx="819.2" cy="235.8" r="0.5"/>
<circle cx="817.3" cy="218.7" r="0.5"/>
<circle cx="820.6" cy="225.4" r="0.5"/>
<circle cx="802.5" cy="229.9" r="0.5"/>
<circle cx="812.8" cy="215.6" r="0.5"/>
<circle cx="775.2" cy="187.2" r="0.5"/>
<circle cx="823.2" cy="222.5" r="0.5"/>
<circle cx="793.9" cy="255.2" r="0.5"/>
<circle cx="804.4" cy="218.3" r="0.5"/>
<circle cx="793.6" cy="192.0" r="0.5"/>
<circle cx="771.8" cy="196.7" r="0.5"/>
<circle cx="787.2" cy="214.9" r="0.5"/>
<circle cx="822.6" cy="196.2" r="0.5"/>
<circle cx="778.8" cy="206.2" r="0.5"/>
<circle cx="772.3" cy="207.0" r="0.5"/>
<circle cx="777.5" cy="222.6" r="0.5"/>
<circle cx="786.8" cy="259.0" r="0.5"/>
<circle cx="809.1" cy="237.9" r="0.5"/>
<circle cx="794.0" cy="259.6" r="0.5"/>
<circle cx="769.3" cy="237.5" r="0.5"/>
<circle cx="781.4" cy="238.0" r="0.5"/>
<circle cx="812.1" cy="197.1" r="0.5"/>
<circle cx="777.1" cy="190.3" r="0.5"/>
<circle cx="789.1" cy="261.9" r="0.5"/>
<circle cx="786.5" cy="208.9" r="0.5"/>
<circle cx="793.8" cy="206.7" r="0.5"/>
<circle cx="812.3" cy="241.4" r="0.5"/>
<circle cx="772.4" cy="203.2" r="0.5"/>
<circle cx="808.1" cy="259.2" r="0.5"/>
<circle cx="806.2" cy="218.5" r="0.5"/>
<circle cx="765.3" cy="246.3" r="0.5"/>
<circle cx="789.7" cy="187.6" r="0.5"/>
<circle cx="799.4" cy="263.2" r="0.5"/>
<circle cx="797.3" cy="212.0" r="0.5"/>
<circle cx="823.9" cy="223.3" r="0.5"/>
<circle cx="778.0" cy="188.0" r="0.5"/>
<circle cx="788.8" cy="188.8" r="0.5"/>
<circle cx="778.9" cy="216.6" r="0.5"/>
<circle cx="782.4" cy="188.1" r="0.5"/>
<circle cx="773.6" cy="224.7" r="0.5"/>
<circle cx="789.2" cy="226.5" r="0.5"/>
<circle cx="766.9" cy="209.1" r="0.5"/>
<circle cx="768.6" cy="227.4" r="0.5"/>
<circle cx="821.0" cy="201.2" r="0.5"/>
<circle cx="762.2" cy="227.2" r="0.5"/>
<circle cx="795.1" cy="229.7" r="0.5"/>
<circle cx="787.4" cy="234.0" r="0.5"/>
<circle cx="811.8" cy="257.0" r="0.5"/>
<circle cx="782.5" cy="219.9" r="0.5"/>
<circle cx="818.8" cy="201.9" r="0.5"/>
<circle cx="769.1" cy="208.9" r="0.5"/>
<circle cx="767.1" cy="245.8" r="0.5"/>
<circle cx="818.4" cy="209.0" r="0.5"/>
<circle cx="770.1" cy="190.6" r="0.5"/>
<circle cx="778.1" cy="190.7" r="0.5"/>
<circle cx="791.0" cy="230.2" r="0.5"/>
<circle cx="778.2" cy="188.9" r="0.5"/>
<circle cx="810.0" cy="187.8" r="0.5"/>
<circle cx="775.0" cy="206.9" r="0.5"/>
<circle cx="787.2" cy="191.9" r="0.5"/>
<circle cx="790.4" cy="209.1" r="0.5"/>
<circle cx="813.7" cy="228.5" r="0.5"/>
<circle cx="823.7" cy="236.3" r="0.5"/>
<circle cx="814.2" cy="230.0" r="0.5"/>
<circle cx="792.0" cy="249.3" r="0.5"/>
<circle cx="806.9" cy="260.4" r="0.5"/>
<circle cx="812.0" cy="240.1" r="0.5"/>
<circle cx="779.7" cy="249.0" r="0.5"/>
<circle cx="787.8" cy="194.4" r="0.5"/>
<circle cx="765.6" cy="197.5" r="0.5"/>
<circle cx="779.4" cy="238.1" r="0.5"/>
<circle cx="781.0" cy="189.1" r="0.5"/>
<circle cx="814.5" cy="228.6" r="0.5"/>
<circle cx="770.1" cy="212.6" r="0.5"/>
<circle cx="803.8" cy="202.5" r="0.5"/>
<circle cx="791.0" cy="213.0" r="0.5"/>
<circle cx="784.1" cy="185.0" r="0.5"/>
<circle cx="801.9" cy="250.2" r="0.5"/>
<circle cx="811.9" cy="191.6" r="0.5"/>
<circle cx="798.1" cy="197.7" r="0.5"/>
<circle cx="810.7" cy="219.7" r="0.5"/>
<circle cx="769.3" cy="209.4" r="0.5"/>
<circle cx="825.0" cy="220.9" r="0.5"/>
<circle cx="791.4" cy="219.3" r="0.5"/>
<circle cx="814.7" cy="258.9" r="0.5"/>
<circle cx="798.3" cy="261.6" r="0.5"/>
<circle cx="802.7" cy="192.3" r="0.5"/>
<circle cx="818.0" cy="217.6" r="0.5"/>
<circle cx="763.3" cy="230.2" r="0.5"/>
<circle cx="794.7" cy="254.5" r="0.5"/>
<circle cx="788.5" cy="201.2" r="0.5"/>
<circle cx="780.4" cy="200.1" r="0.5"/>
<circle cx="800.4" cy="212.6" r="0.5"/>
<circle cx="813.6" cy="203.3" r="0.5"/>
<circle cx="785.6" cy="203.9" r="0.5"/>
<circle cx="820.5" cy="233.5" r="0.5"/>
<circle cx="789.1" cy="195.4" r="0.5"/>
<circle cx="819.2" cy="223.2" r="0.5"/>
<circle cx="763.6" cy="197.6" r="0.5"/>
<circle cx="767.9" cy="241.4" r="0.5"/>
<circle cx="824.0" cy="199.9" r="0.5"/>
<circle cx="816.8" cy="209.9" r="0.5"/>
<circle cx="808.8" cy="253.0" r="0.5"/>
<circle cx="804.6" cy="248.0" r="0.5"/>
<circle cx="787.4" cy="184.8" r="0.5"/>
<circle cx="796.8" cy="230.9" r="0.5"/>
<circle cx="773.9" cy="215.1" r="0.5"/>
<circle cx="783.2" cy="186.2" r="0.5"/>
<circle cx="782.8" cy="214.6" r="0.5"/>
<circle cx="794.3" cy="240.3" r="0.5"/>
<circle cx="788.9" cy="262.6" r="0.5"/>
<circle cx="809.5" cy="237.6" r="0.5"/>
<circle cx="798.6" cy="247.9" r="0.5"/>
<circle cx="786.4" cy="231.5" r="0.5"/>
<circle cx="808.6" cy="225.8" r="0.5"/>
<circle cx="780.9" cy="190.2" r="0.5"/>
<circle cx="767.1" cy="212.5" r="0.5"/>
<circle cx="801.6" cy="244.8" r="0.5"/>
<circle cx="811.0" cy="208.5" r="0.5"/>
<circle cx="826.0" cy="206.0" r="0.5"/>
<circle cx="811.1" cy="189.8" r="0.5"/>
<circle cx="813.7" cy="237.6" r="0.5"/>
<circle cx="809.1" cy="251.1" r="0.5"/>
<circle cx="812.7" cy="232.9" r="0.5"/>
<circle cx="775.6" cy="225.3" r="0.5"/>
<circle cx="823.7" cy="203.1" r="0.5"/>
<circle cx="829.2" cy="227.5" r="0.5"/>
<circle cx="788.5" cy="184.2" r="0.5"/>
<circle cx="788.3" cy="198.3" r="0.5"/>
<circle cx="806.7" cy="256.0" r="0.5"/>
<circle cx="788.1" cy="192.7" r="0.5"/>
<circle cx="809.2" cy="228.3" r="0.5"/>
<circle cx="811.1" cy="213.9" r="0.5"/>
<circle cx="823.1" cy="201.0" r="0.5"/>
<circle cx="782.4" cy="205.4" r="0.5"/>
<circle cx="804.6" cy="255.8" r="0.5"/>
<circle cx="772.7" cy="234.6" r="0.5"/>
<circle cx="814.7" cy="202.0" r="0.5"/>
<circle cx="765.4" cy="229.3" r="0.5"/>
<circle cx="819.1" cy="254.3" r="0.5"/>
<circle cx="812.0" cy="217.3" r="0.5"/>
<circle cx="790.8" cy="226.3" r="0.5"/>
<circle cx="824.3" cy="208.2" r="0.5"/>
<circle cx="780.7" cy="232.4" r="0.5"/>
<circle cx="828.7" cy="199.0" r="0.5"/>
<circle cx="800.4" cy="232.3" r="0.5"/>
<circle cx="773.9" cy="199.2" r="0.5"/>
<circle cx="802.6" cy="235.7" r="0.5"/>
<circle cx="809.3" cy="242.3" r="0.5"/>
<circle cx="765.3" cy="222.8" r="0.5"/>
<circle cx="783.3" cy="252.0" r="0.5"/>
<circle cx="806.2" cy="258.1" r="0.5"/>
<circle cx="777.0" cy="239.7" r="0.5"/>
<circle cx="819.9" cy="222.1" r="0.5"/>
<circle cx="768.1" cy="199.5" r="0.5"/>
<circle cx="772.0" cy="191.4" r="0.5"/>
<circle cx="771.6" cy="233.3" r="0.5"/>
<circle cx="768.3" cy="244.6" r="0.5"/>
<circle cx="812.5" cy="249.3" r="0.5"/>
<circle cx="817.3" cy="241.0" r="0.5"/>
<circle cx="804.8" cy="261.2" r="0.5"/>
<circle cx="768.2" cy="192.2" r="0.5"/>
<circle cx="765.5" cy="200.5" r="0.5"/>
<circle cx="787.2" cy="220.7" r="0.5"/>
<circle cx="808.6" cy="243.4" r="0.5"/>
<circle cx="766.9" cy="216.3" r="0.5"/>
<circle cx="799.0" cy="214.0" r="0.5"/>
<circle cx="769.2" cy="231.8" r="0.5"/>
<circle cx="787.2" cy="238.7" r="0.5"/>
<circle cx="795.7" cy="261.0" r="0.5"/>
<circle cx="814.2" cy="241.7" r="0.5"/>
<circle cx="781.7" cy="193.3" r="0.5"/>
<circle cx="794.5" cy="212.3" r="0.5"/>
<circle cx="812.6" cy="257.5" r="0.5"/>
<circle cx="787.7" cy="207.2" r="0.5"/>
<circle cx="795.9" cy="239.7" r="0.5"/>
<circle cx="816.2" cy="230.1" r="0.5"/>
<circle cx="781.7" cy="211.0" r="0.5"/>
<circle cx="820.4" cy="225.5" r="0.5"/>
<circle cx="764.5" cy="217.7" r="0.5"/>
<circle cx="777.6" cy="237.3" r="0.5"/>
<circle cx="766.1" cy="205.7" r="0.5"/>
<circle cx="767.7" cy="222.2" r="0.5"/>
<circle cx="829.9" cy="227.3" r="0.5"/>
<circle cx="788.0" cy="258.7" r="0.5"/>
<circle cx="767.4" cy="212.5" r="0.5"/>
<circle cx="814.6" cy="212.9" r="0.5"/>
<circle cx="762.1" cy="204.1" r="0.5"/>
<circle cx="793.1" cy="214.6" r="0.5"/>
<circle cx="797.2" cy="188.3" r="0.5"/>
<circle cx="792.0" cy="221.8" r="0.5"/>
<circle cx="767.0" cy="206.3" r="0.5"/>
<circle cx="796.5" cy="188.2" r="0.5"/>
<circle cx="788.5" cy="246.3" r="0.5"/>
<circle cx="791.4" cy="231.5" r="0.5"/>
<circle cx="805.5" cy="186.9" r="0.5"/>
<circle cx="762.7" cy="245.6" r="0.5"/>
<circle cx="789.9" cy="253.9" r="0.5"/>
<circle cx="818.8" cy="257.2" r="0.5"/>
<circle cx="813.9" cy="255.3" r="0.5"/>
<circle cx="771.4" cy="246.5" r="0.5"/>
<circle cx="790.5" cy="261.8" r="0.5"/>
<circle cx="830.6" cy="201.3" r="0.5"/>
<circle cx="790.5" cy="205.7" r="0.5"/>
<circle cx="793.9" cy="206.9" r="0.5"/>
<circle cx="807.7" cy="193.9" r="0.5"/>
<circle cx="772.8" cy="220.6" r="0.5"/>
<circle cx="766.2" cy="214.5" r="0.5"/>
<circle cx="802.9" cy="194.9" r="0.5"/>
<circle cx="777.6" cy="257.6" r="0.5"/>
<circle cx="773.9" cy="218.3" r="0.5"/>
<circle cx="779.7" cy="244.3" r="0.5"/>
<circle cx="787.1" cy="246.0" r="0.5"/>
<circle cx="771.6" cy="225.5" r="0.5"/>
<circle cx="767.3" cy="192.9" r="0.5"/>
<circle cx="806.0" cy="214.0" r="0.5"/>
<circle cx="786.8" cy="222.2" r="0.5"/>
<circle cx="801.7" cy="261.3" r="0.5"/>
<circle cx="777.9" cy="229.5" r="0.5"/>
<circle cx="779.4" cy="227.6" r="0.5"/>
<circle cx="812.2" cy="194.7" r="0.5"/>
<circle cx="794.7" cy="240.5" r="0.5"/>
<circle cx="761.6" cy="245.7" r="0.5"/>
<circle cx="790.3" cy="224.3" r="0.5"/>
<circle cx="803.7" cy="247.4" r="0.5"/>
<circle cx="764.9" cy="224.0" r="0.5"/>
<circle cx="763.7" cy="214.8" r="0.5"/>
<circle cx="785.2" cy="185.7" r="0.5"/>
<circle cx="781.8" cy="220.0" r="0.5"/>
<circle cx="806.8" cy="258.0" r="0.5"/>
<circle cx="786.9" cy="226.4" r="0.5"/>
<circle cx="810.9" cy="259.0" r="0.5"/>
<circle cx="782.1" cy="197.3" r="0.5"/>
<circle cx="792.4" cy="242.9" r="0.5"/>
<circle cx="798.0" cy="215.1" r="0.5"/>
<circle cx="825.7" cy="207.9" r="0.5"/>
<circle cx="799.6" cy="250.4" r="0.5"/>
<circle cx="770.7" cy="212.1" r="0.5"/>
<circle cx="795.6" cy="229.3" r="0.5"/>
<circle cx="775.5" cy="220.3" r="0.5"/>
<circle cx="784.9" cy="195.5" r="0.5"/>
<circle cx="828.7" cy="205.1" r="0.5"/>
<circle cx="780.3" cy="246.7" r="0.5"/>
<circle cx="812.9" cy="205.0" r="0.5"/>
<circle cx="819.0" cy="234.1" r="0.5"/>
<circle cx="788.2" cy="234.3" r="0.5"/>
<circle cx="778.2" cy="205.1" r="0.5"/>
<circle cx="822.4" cy="219.1" r="0.5"/>
<circle cx="823.8" cy="198.2" r="0.5"/>
<circle cx="812.8" cy="228.9" r="0.5"/>
<circle cx="818.7" cy="223.6" r="0.5"/>
<circle cx="802.2" cy="193.4" r="0.5"/>
<circle cx="811.5" cy="232.9" r="0.5"/>
<circle cx="803.8" cy="201.7" r="0.5"/>
<circle cx="827.4" cy="192.9" r="0.5"/>
<circle cx="765.5" cy="238.7" r="0.5"/>
<circle cx="793.2" cy="235.9" r="0.5"/>
<circle cx="823.4" cy="241.7" r="0.5"/>
<circle cx="765.9" cy="235.4" r="0.5"/>
<circle cx="820.1" cy="193.6" r="0.5"/>
<circle cx="813.8" cy="204.7" r="0.5"/>
<circle cx="814.1" cy="225.3" r="0.5"/>
<circle cx="824.1" cy="221.2" r="0.5"/>
<circle cx="771.9" cy="201.3" r="0.5"/>
<circle cx="779.4" cy="259.7" r="0.5"/>
<circle cx="775.4" cy="191.1" r="0.5"/>
<circle cx="785.7" cy="190.3" r="0.5"/>
<circle cx="790.8" cy="233.7" r="0.5"/>
<circle cx="806.5" cy="198.0" r="0.5"/>
<circle cx="770.7" cy="223.3" r="0.5"/>
<circle cx="809.1" cy="219.8" r="0.5"/>
<circle cx="801.1" cy="257.0" r="0.5"/>
<circle cx="771.2" cy="205.4" r="0.5"/>
<circle cx="795.6" cy="226.9" r="0.5"/>
<circle cx="807.4" cy="217.6" r="0.5"/>
<circle cx="815.9" cy="250.9" r="0.5"/>
<circle cx="781.6" cy="192.6" r="0.5"/>
<circle cx="779.1" cy="212.6" r="0.5"/>
<circle cx="823.3" cy="205.2" r="0.5"/>
<circle cx="805.1" cy="235.3" r="0.5"/>
<circle cx="827.9" cy="193.3" r="0.5"/>
<circle cx="814.9" cy="210.9" r="0.5"/>
<circle cx="768.2" cy="234.6" r="0.5"/>
<circle cx="820.1" cy="230.6" r="0.5"/>
<circle cx="787.9" cy="234.9" r="0.5"/>
<circle cx="811.7" cy="204.9" r="0.5"/>
<circle cx="789.6" cy="210.3" r="0.5"/>
<circle cx="811.2" cy="216.8" r="0.5"/>
</g>
<g stroke-width="1.4" fill="#fff">
<path d="M761,386 L786,390.6 L781,410.6 L757.5,403.75 C754.5,401 754,394 755.6,390.6 C757,387.5 759,386 761,386 Z"/>
<path d="M793.75,397.5 C797,395.5 803,394.5 807.5,395 C811,395.3 813.5,396 815,397.5 C817.5,400 818.5,402.5 818,405 C817.5,409 816,412 813.75,413.75 C811.5,415.5 809.5,416.5 807.5,417 L800,420 L790,400 Z"/>
<path d="M783,393 C779.5,396 778.5,404 781.5,410.5" fill="none"/>
<path d="M786,392 C782.5,396 781.8,404 784.5,410" fill="none" stroke-width="1.1"/>
<path d="M787,400 L787.5,382.5 C788.5,379 791.5,377.2 794.4,377.5 C798,377 801.5,379.5 802.5,382.5 L806,393.75 C803,394.2 799,395.2 795,397 L792,401 Z"/>
<path d="M790.5,382.5 L790,399.5" fill="none" stroke-width="1.2"/>
<circle cx="797" cy="386" r="3.4" stroke-width="1.2"/><circle cx="797" cy="386" r="1.7" stroke-width="1"/>
<path d="M781,414 C782,410.5 785,408.5 788,408 L797,404.5 C800,404.5 802.5,406.5 803.5,409 L806.5,416.5 L803,419.5 L789,426 C786,426.5 783,425.5 782,423 Z"/>
<path d="M789.5,409 L794.5,424 M794,407 L799,421.5 M798.5,405.5 L803,419.5 M791.5,414 L797,411.5" fill="none" stroke-width="1.2"/>
<ellipse cx="785.8" cy="419.2" rx="3.6" ry="5.8" transform="rotate(-18 785.8 419.2)"/>
<path d="M803.5,409 C806,408 808,405 808.5,402" fill="none" stroke-width="1.2"/>
<path d="M806.5,416.5 C809,414.5 810.5,410 810.5,405.5" fill="none" stroke-width="1.2"/>
</g>
<line x1="796.75" y1="130" x2="796.75" y2="96" stroke-width="1" stroke-dasharray="1.5 1.2"/>
<path d="M796.75,91 L794.5,98 L799,98 Z" fill="#000" stroke-width="0.5"/>
<path d="M272,331 L300,377 L415,310 L422,325" stroke-width="1" />
<path d="M262.5,427.5 L282.5,460 L458,389 L461,400" stroke-width="1" stroke="#333"/>
<path d="M619,255 L787.5,349 L787.5,327.5" stroke-width="1" />
<line x1="402.5" y1="66" x2="420" y2="92" stroke-width="1" />
<defs><mask id="wm" maskUnits="userSpaceOnUse" x="540" y="250" width="300" height="220">
<rect x="540" y="250" width="300" height="220" fill="#fff" stroke="none"/>
<g stroke="#000" stroke-width="3.6" fill="none" stroke-linecap="butt">
<path d="M590,346 Q700,300 812,270"/>
<path d="M596,366 Q710,318 818,288"/>
<path d="M604,384 Q715,340 806,314"/>
<path d="M612,400 Q715,364 786,342"/>
<path d="M640,412 Q710,392 762,368"/>
</g></mask></defs>
<g stroke="none" fill="url(#dots)">
<path mask="url(#wm)" d="M556,348 L662,301 L750,260 L830,268 L822,290 L800,330 L778,360 L758,378 L740,394 L722,408 L700,414 L640,416 L592,416.5 Z"/>
<text x="586" y="449" font-size="43" font-weight="bold" stroke="url(#dots)" stroke-width="1.5" textLength="240" lengthAdjust="spacingAndGlyphs">HONDA</text>
</g>
<g stroke="none" fill="#000">
<path d=" M241.22,115.00 L239.68,115.00 L239.68,105.20 Q239.13,105.73 238.22,106.26 Q237.32,106.79 236.61,107.05 L236.61,105.57 Q237.90,104.96 238.86,104.10 Q239.83,103.23 240.23,102.42 L241.22,102.42 Z" fill="#000" stroke="#000" stroke-width="0.3"/>
<path d=" M296.62,67.20 L295.08,67.20 L295.08,57.40 Q294.53,57.93 293.62,58.46 Q292.72,58.99 292.01,59.25 L292.01,57.77 Q293.30,57.16 294.26,56.30 Q295.23,55.43 295.63,54.62 L296.62,54.62 Z" fill="#000" stroke="#000" stroke-width="0.3"/>
<text x="299.83" y="67.2" font-size="17.5" fill="#000" stroke="#000" stroke-width="0.3">4</text>
<path d=" M362.62,59.20 L361.08,59.20 L361.08,49.40 Q360.53,49.93 359.62,50.46 Q358.72,50.99 358.01,51.25 L358.01,49.77 Q359.30,49.16 360.26,48.30 Q361.23,47.43 361.63,46.62 L362.62,46.62 Z" fill="#000" stroke="#000" stroke-width="0.3"/>
<text x="365.83" y="59.2" font-size="17.5" fill="#000" stroke="#000" stroke-width="0.3">5</text>
<path d=" M320.12,99.70 L318.58,99.70 L318.58,89.90 Q318.03,90.43 317.12,90.96 Q316.22,91.49 315.51,91.75 L315.51,90.27 Q316.80,89.66 317.76,88.80 Q318.73,87.93 319.13,87.12 L320.12,87.12 Z" fill="#000" stroke="#000" stroke-width="0.3"/>
<text x="323.33" y="99.7" font-size="17.5" fill="#000" stroke="#000" stroke-width="0.3">7</text>
<path d=" M488.62,109.70 L487.08,109.70 L487.08,99.90 Q486.53,100.43 485.62,100.96 Q484.72,101.49 484.01,101.75 L484.01,100.27 Q485.30,99.66 486.26,98.80 Q487.23,97.93 487.63,97.12 L488.62,97.12 Z" fill="#000" stroke="#000" stroke-width="0.3"/>
<text x="491.83" y="109.7" font-size="17.5" fill="#000" stroke="#000" stroke-width="0.3">8</text>
<text x="509" y="130.7" font-size="17.5" fill="#000"  stroke="#000" stroke-width="0.3">4</text>
<path d=" M324.62,175.70 L323.08,175.70 L323.08,165.90 Q322.53,166.43 321.62,166.96 Q320.72,167.49 320.01,167.75 L320.01,166.27 Q321.30,165.66 322.26,164.80 Q323.23,163.93 323.63,163.12 L324.62,163.12 Z" fill="#000" stroke="#000" stroke-width="0.3"/>
<text x="327.83" y="175.7" font-size="17.5" fill="#000" stroke="#000" stroke-width="0.3">8</text>
<path d=" M415.62,170.20 L414.08,170.20 L414.08,160.40 Q413.53,160.93 412.62,161.46 Q411.72,161.99 411.01,162.25 L411.01,160.77 Q412.30,160.16 413.26,159.30 Q414.23,158.43 414.63,157.62 L415.62,157.62 Z" fill="#000" stroke="#000" stroke-width="0.3"/>
<text x="418.83" y="170.2" font-size="17.5" fill="#000" stroke="#000" stroke-width="0.3">4</text>
<text x="443.5" y="163.7" font-size="17.5" fill="#000"  stroke="#000" stroke-width="0.3">4</text>
<text x="512" y="183.7" font-size="17.5" fill="#000"  stroke="#000" stroke-width="0.3">20</text>
<text x="475.5" y="208.7" font-size="17.5" fill="#000"  stroke="#000" stroke-width="0.3">20</text>
<path d=" M350.62,216.70 L349.08,216.70 L349.08,206.90 Q348.53,207.43 347.62,207.96 Q346.72,208.49 346.01,208.75 L346.01,207.27 Q347.30,206.66 348.26,205.80 Q349.23,204.93 349.63,204.12 L350.62,204.12 Z" fill="#000" stroke="#000" stroke-width="0.3"/>
<text x="353.83" y="216.7" font-size="17.5" fill="#000" stroke="#000" stroke-width="0.3">4</text>
<text x="515.5" y="238.7" font-size="17.5" fill="#000"  stroke="#000" stroke-width="0.3">2</text>
<text x="576.5" y="208.7" font-size="17.5" fill="#000"  stroke="#000" stroke-width="0.3">2</text>
<path d=" M182.12,246.70 L180.58,246.70 L180.58,236.90 Q180.03,237.43 179.12,237.96 Q178.22,238.49 177.51,238.75 L177.51,237.27 Q178.80,236.66 179.76,235.80 Q180.73,234.93 181.13,234.12 L182.12,234.12 Z" fill="#000" stroke="#000" stroke-width="0.3"/>
<text x="185.33" y="246.7" font-size="17.5" fill="#000" stroke="#000" stroke-width="0.3">2</text>
<path d=" M335.62,316.70 L334.08,316.70 L334.08,306.90 Q333.53,307.43 332.62,307.96 Q331.72,308.49 331.01,308.75 L331.01,307.27 Q332.30,306.66 333.26,305.80 Q334.23,304.93 334.63,304.12 L335.62,304.12 Z" fill="#000" stroke="#000" stroke-width="0.3"/>
<text x="338.83" y="316.7" font-size="17.5" fill="#000" stroke="#000" stroke-width="0.3">8</text>
<path d=" M468.62,277.70 L467.08,277.70 L467.08,267.90 Q466.53,268.43 465.62,268.96 Q464.72,269.49 464.01,269.75 L464.01,268.27 Q465.30,267.66 466.26,266.80 Q467.23,265.93 467.63,265.12 L468.62,265.12 Z" fill="#000" stroke="#000" stroke-width="0.3"/>
<text x="471.83" y="277.7" font-size="17.5" fill="#000" stroke="#000" stroke-width="0.3">8</text>
<text x="627" y="40.7" font-size="17.5" fill="#000"  stroke="#000" stroke-width="0.3">24</text>
<path d=" M700.62,97.20 L699.08,97.20 L699.08,87.40 Q698.53,87.93 697.62,88.46 Q696.72,88.99 696.01,89.25 L696.01,87.77 Q697.30,87.16 698.26,86.30 Q699.23,85.43 699.63,84.62 L700.62,84.62 Z" fill="#000" stroke="#000" stroke-width="0.3"/>
<text x="703.83" y="97.2" font-size="17.5" fill="#000" stroke="#000" stroke-width="0.3">3</text>
<path d=" M685.12,229.70 L683.58,229.70 L683.58,219.90 Q683.03,220.43 682.12,220.96 Q681.22,221.49 680.51,221.75 L680.51,220.27 Q681.80,219.66 682.76,218.80 Q683.73,217.93 684.13,217.12 L685.12,217.12 Z" fill="#000" stroke="#000" stroke-width="0.3"/>
<text x="688.33" y="229.7" font-size="17.5" fill="#000" stroke="#000" stroke-width="0.3">0</text>
<path d=" M891.92,117.70 L890.38,117.70 L890.38,107.90 Q889.83,108.43 888.92,108.96 Q888.02,109.49 887.31,109.75 L887.31,108.27 Q888.60,107.66 889.56,106.80 Q890.53,105.93 890.93,105.12 L891.92,105.12 Z" fill="#000" stroke="#000" stroke-width="0.3"/>
<path d=" M901.65,117.70 L900.12,117.70 L900.12,107.90 Q899.56,108.43 898.66,108.96 Q897.76,109.49 897.04,109.75 L897.04,108.27 Q898.33,107.66 899.29,106.80 Q900.26,105.93 900.66,105.12 L901.65,105.12 Z" fill="#000" stroke="#000" stroke-width="0.3"/>
<text x="933.2" y="148.7" font-size="17.5" fill="#000"  stroke="#000" stroke-width="0.3">7</text>
<text x="846.8" y="173.7" font-size="17.5" fill="#000"  stroke="#000" stroke-width="0.3">8</text>
<path d=" M882.32,284.70 L880.78,284.70 L880.78,274.90 Q880.23,275.43 879.32,275.96 Q878.42,276.49 877.71,276.75 L877.71,275.27 Q879.00,274.66 879.96,273.80 Q880.93,272.93 881.33,272.12 L882.32,272.12 Z" fill="#000" stroke="#000" stroke-width="0.3"/>
<path d=" M892.05,284.70 L890.52,284.70 L890.52,274.90 Q889.96,275.43 889.06,275.96 Q888.16,276.49 887.44,276.75 L887.44,275.27 Q888.73,274.66 889.69,273.80 Q890.66,272.93 891.06,272.12 L892.05,272.12 Z" fill="#000" stroke="#000" stroke-width="0.3"/>
<text x="927.3" y="308.7" font-size="17.5" fill="#000"  stroke="#000" stroke-width="0.3">6</text>
<text x="843.3" y="337.7" font-size="17.5" fill="#000"  stroke="#000" stroke-width="0.3">8</text>
<path d=" M732.12,437.70 L730.58,437.70 L730.58,427.90 Q730.03,428.43 729.12,428.96 Q728.22,429.49 727.51,429.75 L727.51,428.27 Q728.80,427.66 729.76,426.80 Q730.73,425.93 731.13,425.12 L732.12,425.12 Z" fill="#000" stroke="#000" stroke-width="0.3"/>
<text x="735.33" y="437.7" font-size="17.5" fill="#000" stroke="#000" stroke-width="0.3">9</text>
<text x="835.5" y="440.7" font-size="17.5" fill="#000"  stroke="#000" stroke-width="0.3">22</text>
<text x="754.3" y="493.7" font-size="17.5" fill="#000"  stroke="#000" stroke-width="0.3">9</text>
<text x="655.00" y="453.7" font-size="17.5" fill="#000" stroke="#000" stroke-width="0.3">2</text>
<path d=" M671.25,453.70 L669.72,453.70 L669.72,443.90 Q669.16,444.43 668.26,444.96 Q667.36,445.49 666.64,445.75 L666.64,444.27 Q667.93,443.66 668.89,442.80 Q669.86,441.93 670.26,441.12 L671.25,441.12 Z" fill="#000" stroke="#000" stroke-width="0.3"/>
<text x="609.3" y="458.2" font-size="17.5" fill="#000"  stroke="#000" stroke-width="0.3">3</text>
<text x="506.50" y="542.7" font-size="17.5" fill="#000" stroke="#000" stroke-width="0.3">2</text>
<path d=" M522.75,542.70 L521.22,542.70 L521.22,532.90 Q520.66,533.43 519.76,533.96 Q518.86,534.49 518.14,534.75 L518.14,533.27 Q519.43,532.66 520.39,531.80 Q521.36,530.93 521.76,530.12 L522.75,530.12 Z" fill="#000" stroke="#000" stroke-width="0.3"/>
<path d=" M438.62,537.20 L437.08,537.20 L437.08,527.40 Q436.53,527.93 435.62,528.46 Q434.72,528.99 434.01,529.25 L434.01,527.77 Q435.30,527.16 436.26,526.30 Q437.23,525.43 437.63,524.62 L438.62,524.62 Z" fill="#000" stroke="#000" stroke-width="0.3"/>
<text x="441.83" y="537.2" font-size="17.5" fill="#000" stroke="#000" stroke-width="0.3">6</text>
<path d=" M583.62,505.70 L582.08,505.70 L582.08,495.90 Q581.53,496.43 580.62,496.96 Q579.72,497.49 579.01,497.75 L579.01,496.27 Q580.30,495.66 581.26,494.80 Q582.23,493.93 582.63,493.12 L583.62,493.12 Z" fill="#000" stroke="#000" stroke-width="0.3"/>
<text x="586.83" y="505.7" font-size="17.5" fill="#000" stroke="#000" stroke-width="0.3">6</text>
<text x="195.5" y="393.7" font-size="17.5" fill="#000"  stroke="#000" stroke-width="0.3">23</text>
<text x="731.3" y="230.7" font-size="17.5" fill="#555"  stroke="#555" stroke-width="0.3">5</text>
<text x="775.3" y="82" font-size="16.5" font-weight="bold" fill="#000" textLength="40.4" lengthAdjust="spacingAndGlyphs" stroke="#000" stroke-width="0.6">E-23</text>
<text x="682.8" y="340" font-size="16.5" font-weight="bold" fill="#000" textLength="37.9" lengthAdjust="spacingAndGlyphs" stroke="#000" stroke-width="0.6">E-21</text>
<text x="1008.5" y="546.3" font-size="12.7" fill="#000"  stroke="#000" stroke-width="0.3">MJZ4E0200</text>
</g>
<g stroke="none" fill="#808080">
<text x="314" y="528.5" font-size="5.6" fill="#000" textLength="492" lengthAdjust="spacingAndGlyphs">(c) 2002-2017 American Honda Motor Co., Inc. Reproduction of the contents of this publication in whole or in part without the express written approval of American Honda Motor Co., Inc. is prohibited.</text>
<text x="485" y="535" font-size="5.6" fill="#000" textLength="147" lengthAdjust="spacingAndGlyphs">Page design (c) 2004 - 2017 by ARI Network Services, Inc.</text>
</g>
<g stroke="none" fill="#000">
<path d="M37.5,543 L42.5,525.6 L45,530 L67.5,518 L73.75,530.6 L53,542 L55,547.5 Z"/>
<path d="M68.6,517.3 L69.6,516.8 L75.9,529.4 L74.9,529.9 Z"/>
<text transform="translate(74.5,529.3) rotate(-28)" font-size="17.5" font-weight="bold" x="0" y="0" stroke="#000" stroke-width="0.7" textLength="27" lengthAdjust="spacingAndGlyphs">FR</text>
<circle cx="99.4" cy="513" r="2.6"/>
</g>
</svg></body></html>
